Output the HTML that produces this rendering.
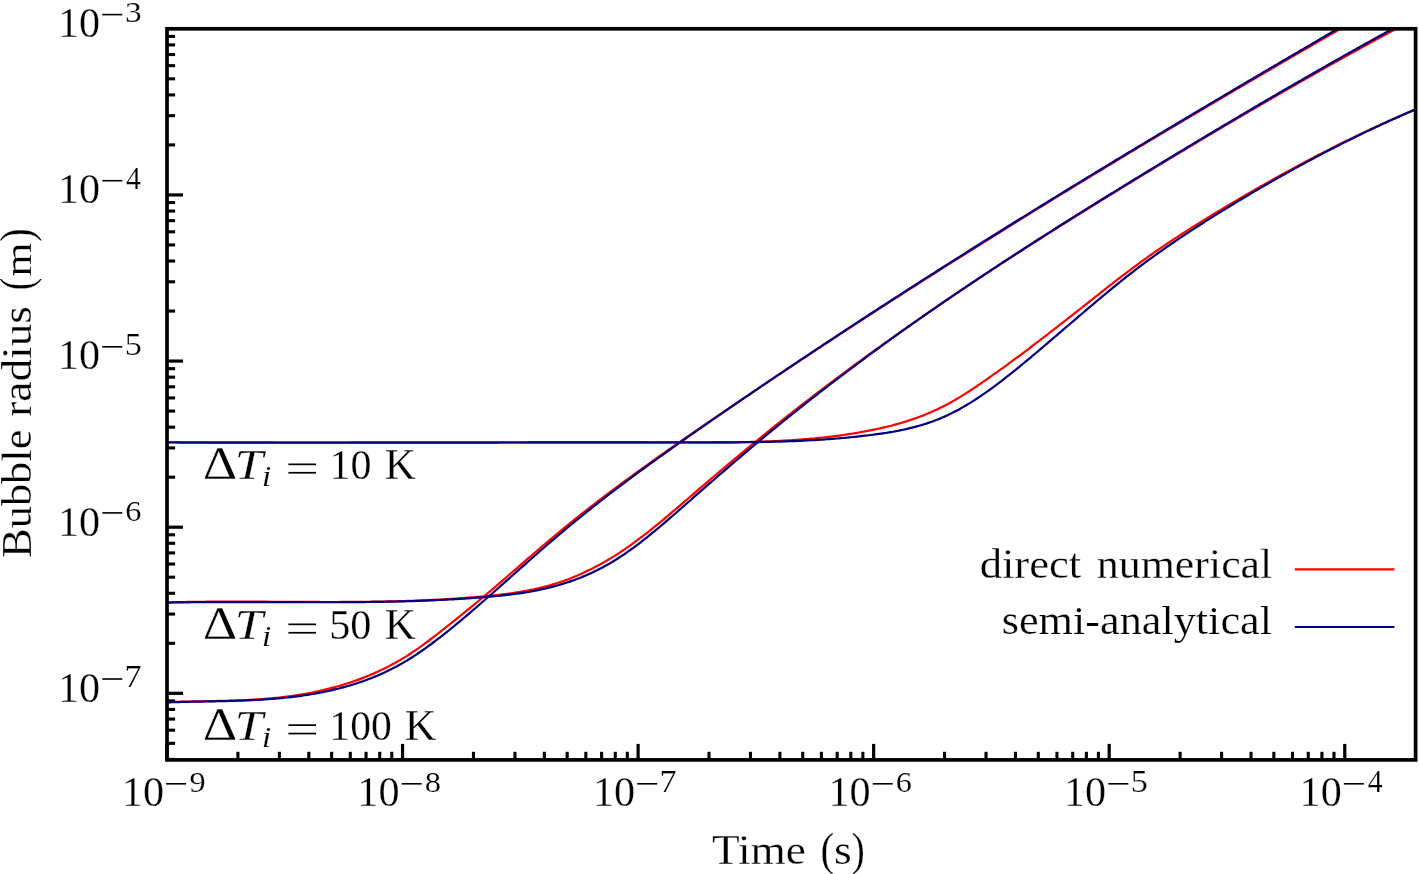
<!DOCTYPE html>
<html><head><meta charset="utf-8"><style>
html,body{margin:0;padding:0;background:#fff;}
svg{display:block;}
svg{will-change:transform}
text{stroke:#fff;stroke-width:0.6px;paint-order:fill stroke}
text{font-family:"Liberation Serif",serif;fill:#000;}
</style></head><body>
<svg width="1419" height="874" viewBox="0 0 1419 874">
<rect width="1419" height="874" fill="#fff"/>
<g stroke="#000" stroke-linecap="butt"><line x1="167.00" y1="759.90" x2="167.00" y2="743.90" stroke-width="3.2"/><line x1="237.91" y1="759.90" x2="237.91" y2="751.80" stroke-width="3.1"/><line x1="279.39" y1="759.90" x2="279.39" y2="751.80" stroke-width="3.1"/><line x1="308.82" y1="759.90" x2="308.82" y2="751.80" stroke-width="3.1"/><line x1="331.64" y1="759.90" x2="331.64" y2="751.80" stroke-width="3.1"/><line x1="350.29" y1="759.90" x2="350.29" y2="751.80" stroke-width="3.1"/><line x1="366.06" y1="759.90" x2="366.06" y2="751.80" stroke-width="3.1"/><line x1="379.72" y1="759.90" x2="379.72" y2="751.80" stroke-width="3.1"/><line x1="391.77" y1="759.90" x2="391.77" y2="751.80" stroke-width="3.1"/><line x1="402.55" y1="759.90" x2="402.55" y2="743.90" stroke-width="3.2"/><line x1="473.46" y1="759.90" x2="473.46" y2="751.80" stroke-width="3.1"/><line x1="514.94" y1="759.90" x2="514.94" y2="751.80" stroke-width="3.1"/><line x1="544.37" y1="759.90" x2="544.37" y2="751.80" stroke-width="3.1"/><line x1="567.19" y1="759.90" x2="567.19" y2="751.80" stroke-width="3.1"/><line x1="585.84" y1="759.90" x2="585.84" y2="751.80" stroke-width="3.1"/><line x1="601.61" y1="759.90" x2="601.61" y2="751.80" stroke-width="3.1"/><line x1="615.27" y1="759.90" x2="615.27" y2="751.80" stroke-width="3.1"/><line x1="627.32" y1="759.90" x2="627.32" y2="751.80" stroke-width="3.1"/><line x1="638.10" y1="759.90" x2="638.10" y2="743.90" stroke-width="3.2"/><line x1="709.01" y1="759.90" x2="709.01" y2="751.80" stroke-width="3.1"/><line x1="750.49" y1="759.90" x2="750.49" y2="751.80" stroke-width="3.1"/><line x1="779.92" y1="759.90" x2="779.92" y2="751.80" stroke-width="3.1"/><line x1="802.74" y1="759.90" x2="802.74" y2="751.80" stroke-width="3.1"/><line x1="821.39" y1="759.90" x2="821.39" y2="751.80" stroke-width="3.1"/><line x1="837.16" y1="759.90" x2="837.16" y2="751.80" stroke-width="3.1"/><line x1="850.82" y1="759.90" x2="850.82" y2="751.80" stroke-width="3.1"/><line x1="862.87" y1="759.90" x2="862.87" y2="751.80" stroke-width="3.1"/><line x1="873.65" y1="759.90" x2="873.65" y2="743.90" stroke-width="3.2"/><line x1="944.56" y1="759.90" x2="944.56" y2="751.80" stroke-width="3.1"/><line x1="986.04" y1="759.90" x2="986.04" y2="751.80" stroke-width="3.1"/><line x1="1015.47" y1="759.90" x2="1015.47" y2="751.80" stroke-width="3.1"/><line x1="1038.29" y1="759.90" x2="1038.29" y2="751.80" stroke-width="3.1"/><line x1="1056.94" y1="759.90" x2="1056.94" y2="751.80" stroke-width="3.1"/><line x1="1072.71" y1="759.90" x2="1072.71" y2="751.80" stroke-width="3.1"/><line x1="1086.37" y1="759.90" x2="1086.37" y2="751.80" stroke-width="3.1"/><line x1="1098.42" y1="759.90" x2="1098.42" y2="751.80" stroke-width="3.1"/><line x1="1109.20" y1="759.90" x2="1109.20" y2="743.90" stroke-width="3.2"/><line x1="1180.11" y1="759.90" x2="1180.11" y2="751.80" stroke-width="3.1"/><line x1="1221.59" y1="759.90" x2="1221.59" y2="751.80" stroke-width="3.1"/><line x1="1251.02" y1="759.90" x2="1251.02" y2="751.80" stroke-width="3.1"/><line x1="1273.84" y1="759.90" x2="1273.84" y2="751.80" stroke-width="3.1"/><line x1="1292.49" y1="759.90" x2="1292.49" y2="751.80" stroke-width="3.1"/><line x1="1308.26" y1="759.90" x2="1308.26" y2="751.80" stroke-width="3.1"/><line x1="1321.92" y1="759.90" x2="1321.92" y2="751.80" stroke-width="3.1"/><line x1="1333.97" y1="759.90" x2="1333.97" y2="751.80" stroke-width="3.1"/><line x1="1344.75" y1="759.90" x2="1344.75" y2="743.90" stroke-width="3.2"/><line x1="167.00" y1="759.43" x2="175.10" y2="759.43" stroke-width="3.1"/><line x1="167.00" y1="743.33" x2="175.10" y2="743.33" stroke-width="3.1"/><line x1="167.00" y1="730.18" x2="175.10" y2="730.18" stroke-width="3.1"/><line x1="167.00" y1="719.05" x2="175.10" y2="719.05" stroke-width="3.1"/><line x1="167.00" y1="709.42" x2="175.10" y2="709.42" stroke-width="3.1"/><line x1="167.00" y1="700.92" x2="175.10" y2="700.92" stroke-width="3.1"/><line x1="167.00" y1="693.32" x2="183.00" y2="693.32" stroke-width="3.2"/><line x1="167.00" y1="643.31" x2="175.10" y2="643.31" stroke-width="3.1"/><line x1="167.00" y1="614.06" x2="175.10" y2="614.06" stroke-width="3.1"/><line x1="167.00" y1="593.30" x2="175.10" y2="593.30" stroke-width="3.1"/><line x1="167.00" y1="577.20" x2="175.10" y2="577.20" stroke-width="3.1"/><line x1="167.00" y1="564.05" x2="175.10" y2="564.05" stroke-width="3.1"/><line x1="167.00" y1="552.92" x2="175.10" y2="552.92" stroke-width="3.1"/><line x1="167.00" y1="543.29" x2="175.10" y2="543.29" stroke-width="3.1"/><line x1="167.00" y1="534.79" x2="175.10" y2="534.79" stroke-width="3.1"/><line x1="167.00" y1="527.19" x2="183.00" y2="527.19" stroke-width="3.2"/><line x1="167.00" y1="477.18" x2="175.10" y2="477.18" stroke-width="3.1"/><line x1="167.00" y1="447.93" x2="175.10" y2="447.93" stroke-width="3.1"/><line x1="167.00" y1="427.17" x2="175.10" y2="427.17" stroke-width="3.1"/><line x1="167.00" y1="411.07" x2="175.10" y2="411.07" stroke-width="3.1"/><line x1="167.00" y1="397.92" x2="175.10" y2="397.92" stroke-width="3.1"/><line x1="167.00" y1="386.79" x2="175.10" y2="386.79" stroke-width="3.1"/><line x1="167.00" y1="377.16" x2="175.10" y2="377.16" stroke-width="3.1"/><line x1="167.00" y1="368.66" x2="175.10" y2="368.66" stroke-width="3.1"/><line x1="167.00" y1="361.06" x2="183.00" y2="361.06" stroke-width="3.2"/><line x1="167.00" y1="311.05" x2="175.10" y2="311.05" stroke-width="3.1"/><line x1="167.00" y1="281.80" x2="175.10" y2="281.80" stroke-width="3.1"/><line x1="167.00" y1="261.04" x2="175.10" y2="261.04" stroke-width="3.1"/><line x1="167.00" y1="244.94" x2="175.10" y2="244.94" stroke-width="3.1"/><line x1="167.00" y1="231.79" x2="175.10" y2="231.79" stroke-width="3.1"/><line x1="167.00" y1="220.66" x2="175.10" y2="220.66" stroke-width="3.1"/><line x1="167.00" y1="211.03" x2="175.10" y2="211.03" stroke-width="3.1"/><line x1="167.00" y1="202.53" x2="175.10" y2="202.53" stroke-width="3.1"/><line x1="167.00" y1="194.93" x2="183.00" y2="194.93" stroke-width="3.2"/><line x1="167.00" y1="144.92" x2="175.10" y2="144.92" stroke-width="3.1"/><line x1="167.00" y1="115.67" x2="175.10" y2="115.67" stroke-width="3.1"/><line x1="167.00" y1="94.91" x2="175.10" y2="94.91" stroke-width="3.1"/><line x1="167.00" y1="78.81" x2="175.10" y2="78.81" stroke-width="3.1"/><line x1="167.00" y1="65.66" x2="175.10" y2="65.66" stroke-width="3.1"/><line x1="167.00" y1="54.53" x2="175.10" y2="54.53" stroke-width="3.1"/><line x1="167.00" y1="44.90" x2="175.10" y2="44.90" stroke-width="3.1"/><line x1="167.00" y1="36.40" x2="175.10" y2="36.40" stroke-width="3.1"/></g>
<defs><clipPath id="pc"><rect x="167.0" y="28.8" width="1248.6" height="731.1"/></clipPath></defs><g clip-path="url(#pc)"><path d="M165.00,702.26 L167.00,702.18 L169.00,702.10 L171.00,702.03 L173.00,701.96 L175.00,701.90 L177.00,701.84 L179.00,701.78 L181.00,701.72 L183.00,701.67 L185.00,701.62 L187.00,701.58 L189.00,701.53 L191.00,701.49 L193.00,701.45 L195.00,701.41 L197.00,701.37 L199.00,701.33 L201.00,701.29 L203.00,701.25 L205.00,701.22 L207.00,701.18 L209.00,701.14 L211.00,701.10 L213.00,701.06 L215.00,701.02 L217.00,700.97 L219.00,700.93 L221.00,700.88 L223.00,700.83 L225.00,700.78 L227.00,700.73 L229.00,700.67 L231.00,700.61 L233.00,700.55 L235.00,700.48 L237.00,700.41 L239.00,700.33 L241.00,700.25 L243.00,700.17 L245.00,700.08 L247.00,699.98 L249.00,699.88 L251.00,699.78 L253.00,699.66 L255.00,699.54 L257.00,699.42 L259.00,699.29 L261.00,699.15 L263.00,699.00 L265.00,698.85 L267.00,698.69 L269.00,698.52 L271.00,698.34 L273.00,698.16 L275.00,697.97 L277.00,697.76 L279.00,697.55 L281.00,697.33 L283.00,697.10 L285.00,696.86 L287.00,696.60 L289.00,696.34 L291.00,696.07 L293.00,695.79 L295.00,695.49 L297.00,695.19 L299.00,694.87 L301.00,694.54 L303.00,694.20 L305.00,693.85 L307.00,693.49 L309.00,693.11 L311.00,692.73 L313.00,692.33 L315.00,691.92 L317.00,691.49 L319.00,691.05 L321.00,690.60 L323.00,690.14 L325.00,689.67 L327.00,689.18 L329.00,688.68 L331.00,688.16 L333.00,687.63 L335.00,687.09 L337.00,686.53 L339.00,685.96 L341.00,685.37 L343.00,684.77 L345.00,684.16 L347.00,683.52 L349.00,682.88 L351.00,682.21 L353.00,681.53 L355.00,680.83 L357.00,680.12 L359.00,679.39 L361.00,678.64 L363.00,677.87 L365.00,677.09 L367.00,676.28 L369.00,675.46 L371.00,674.62 L373.00,673.76 L375.00,672.88 L377.00,671.98 L379.00,671.06 L381.00,670.12 L383.00,669.16 L385.00,668.17 L387.00,667.17 L389.00,666.14 L391.00,665.09 L393.00,664.02 L395.00,662.92 L397.00,661.80 L399.00,660.65 L401.00,659.48 L403.00,658.29 L405.00,657.07 L407.00,655.83 L409.00,654.55 L411.00,653.26 L413.00,651.93 L415.00,650.58 L417.00,649.21 L419.00,647.81 L421.00,646.39 L423.00,644.95 L425.00,643.48 L427.00,642.00 L429.00,640.50 L431.00,638.98 L433.00,637.45 L435.00,635.91 L437.00,634.35 L439.00,632.79 L441.00,631.21 L443.00,629.63 L445.00,628.04 L447.00,626.45 L449.00,624.85 L451.00,623.25 L453.00,621.66 L455.00,620.06 L457.00,618.46 L459.00,616.85 L461.00,615.25 L463.00,613.64 L465.00,612.03 L467.00,610.41 L469.00,608.79 L471.00,607.17 L473.00,605.53 L475.00,603.89 L477.00,602.25 L479.00,600.60 L481.00,598.93 L483.00,597.26 L485.00,595.59 L487.00,593.90 L489.00,592.21 L491.00,590.51 L493.00,588.80 L495.00,587.09 L497.00,585.37 L499.00,583.65 L501.00,581.93 L503.00,580.20 L505.00,578.47 L507.00,576.74 L509.00,575.01 L511.00,573.28 L513.00,571.54 L515.00,569.81 L517.00,568.08 L519.00,566.34 L521.00,564.61 L523.00,562.88 L525.00,561.15 L527.00,559.42 L529.00,557.69 L531.00,555.97 L533.00,554.25 L535.00,552.53 L537.00,550.81 L539.00,549.10 L541.00,547.39 L543.00,545.69 L545.00,543.99 L547.00,542.30 L549.00,540.61 L551.00,538.92 L553.00,537.25 L555.00,535.57 L557.00,533.91 L559.00,532.25 L561.00,530.60 L563.00,528.96 L565.00,527.32 L567.00,525.69 L569.00,524.07 L571.00,522.45 L573.00,520.84 L575.00,519.23 L577.00,517.64 L579.00,516.04 L581.00,514.46 L583.00,512.88 L585.00,511.31 L587.00,509.74 L589.00,508.18 L591.00,506.62 L593.00,505.07 L595.00,503.53 L597.00,501.99 L599.00,500.45 L601.00,498.92 L603.00,497.40 L605.00,495.88 L607.00,494.37 L609.00,492.86 L611.00,491.36 L613.00,489.86 L615.00,488.37 L617.00,486.88 L619.00,485.39 L621.00,483.91 L623.00,482.44 L625.00,480.96 L627.00,479.50 L629.00,478.03 L631.00,476.57 L633.00,475.12 L635.00,473.67 L637.00,472.22 L639.00,470.78 L641.00,469.34 L643.00,467.90 L645.00,466.47 L647.00,465.03 L649.00,463.61 L651.00,462.18 L653.00,460.76 L655.00,459.35 L657.00,457.93 L659.00,456.52 L661.00,455.11 L663.00,453.70 L665.00,452.30 L667.00,450.90 L669.00,449.50 L671.00,448.10 L673.00,446.71 L675.00,445.31 L677.00,443.92 L679.00,442.54 L681.00,441.15 L683.00,439.76 L685.00,438.38 L687.00,437.00 L689.00,435.62 L691.00,434.24 L693.00,432.86 L695.00,431.49 L697.00,430.11 L699.00,428.74 L701.00,427.37 L703.00,425.99 L705.00,424.62 L707.00,423.25 L709.00,421.89 L711.00,420.52 L713.00,419.15 L715.00,417.78 L717.00,416.42 L719.00,415.06 L721.00,413.69 L723.00,412.33 L725.00,410.97 L727.00,409.61 L729.00,408.25 L731.00,406.89 L733.00,405.53 L735.00,404.18 L737.00,402.82 L739.00,401.47 L741.00,400.11 L743.00,398.76 L745.00,397.41 L747.00,396.06 L749.00,394.71 L751.00,393.36 L753.00,392.01 L755.00,390.67 L757.00,389.32 L759.00,387.97 L761.00,386.63 L763.00,385.29 L765.00,383.94 L767.00,382.60 L769.00,381.26 L771.00,379.92 L773.00,378.58 L775.00,377.25 L777.00,375.91 L779.00,374.57 L781.00,373.24 L783.00,371.90 L785.00,370.57 L787.00,369.24 L789.00,367.91 L791.00,366.57 L793.00,365.25 L795.00,363.92 L797.00,362.59 L799.00,361.26 L801.00,359.93 L803.00,358.61 L805.00,357.28 L807.00,355.96 L809.00,354.64 L811.00,353.32 L813.00,352.00 L815.00,350.68 L817.00,349.36 L819.00,348.04 L821.00,346.72 L823.00,345.40 L825.00,344.09 L827.00,342.77 L829.00,341.46 L831.00,340.15 L833.00,338.83 L835.00,337.52 L837.00,336.21 L839.00,334.90 L841.00,333.59 L843.00,332.28 L845.00,330.98 L847.00,329.67 L849.00,328.37 L851.00,327.06 L853.00,325.76 L855.00,324.45 L857.00,323.15 L859.00,321.85 L861.00,320.55 L863.00,319.25 L865.00,317.95 L867.00,316.65 L869.00,315.36 L871.00,314.06 L873.00,312.76 L875.00,311.47 L877.00,310.18 L879.00,308.88 L881.00,307.59 L883.00,306.30 L885.00,305.01 L887.00,303.72 L889.00,302.43 L891.00,301.14 L893.00,299.85 L895.00,298.57 L897.00,297.28 L899.00,296.00 L901.00,294.71 L903.00,293.43 L905.00,292.15 L907.00,290.86 L909.00,289.58 L911.00,288.30 L913.00,287.02 L915.00,285.74 L917.00,284.47 L919.00,283.19 L921.00,281.91 L923.00,280.64 L925.00,279.36 L927.00,278.09 L929.00,276.82 L931.00,275.54 L933.00,274.27 L935.00,273.00 L937.00,271.73 L939.00,270.46 L941.00,269.19 L943.00,267.92 L945.00,266.66 L947.00,265.39 L949.00,264.13 L951.00,262.86 L953.00,261.60 L955.00,260.33 L957.00,259.07 L959.00,257.81 L961.00,256.55 L963.00,255.29 L965.00,254.03 L967.00,252.77 L969.00,251.51 L971.00,250.25 L973.00,249.00 L975.00,247.74 L977.00,246.49 L979.00,245.23 L981.00,243.98 L983.00,242.73 L985.00,241.47 L987.00,240.22 L989.00,238.97 L991.00,237.72 L993.00,236.47 L995.00,235.22 L997.00,233.97 L999.00,232.73 L1001.00,231.48 L1003.00,230.24 L1005.00,228.99 L1007.00,227.75 L1009.00,226.50 L1011.00,225.26 L1013.00,224.02 L1015.00,222.78 L1017.00,221.53 L1019.00,220.29 L1021.00,219.06 L1023.00,217.82 L1025.00,216.58 L1027.00,215.34 L1029.00,214.10 L1031.00,212.87 L1033.00,211.63 L1035.00,210.40 L1037.00,209.16 L1039.00,207.93 L1041.00,206.70 L1043.00,205.47 L1045.00,204.24 L1047.00,203.00 L1049.00,201.77 L1051.00,200.55 L1053.00,199.32 L1055.00,198.09 L1057.00,196.86 L1059.00,195.63 L1061.00,194.41 L1063.00,193.18 L1065.00,191.96 L1067.00,190.74 L1069.00,189.51 L1071.00,188.29 L1073.00,187.07 L1075.00,185.85 L1077.00,184.62 L1079.00,183.40 L1081.00,182.19 L1083.00,180.97 L1085.00,179.75 L1087.00,178.53 L1089.00,177.31 L1091.00,176.10 L1093.00,174.88 L1095.00,173.67 L1097.00,172.45 L1099.00,171.24 L1101.00,170.03 L1103.00,168.81 L1105.00,167.60 L1107.00,166.39 L1109.00,165.18 L1111.00,163.97 L1113.00,162.76 L1115.00,161.55 L1117.00,160.34 L1119.00,159.14 L1121.00,157.93 L1123.00,156.72 L1125.00,155.52 L1127.00,154.31 L1129.00,153.11 L1131.00,151.90 L1133.00,150.70 L1135.00,149.50 L1137.00,148.30 L1139.00,147.09 L1141.00,145.89 L1143.00,144.69 L1145.00,143.49 L1147.00,142.29 L1149.00,141.09 L1151.00,139.90 L1153.00,138.70 L1155.00,137.50 L1157.00,136.31 L1159.00,135.11 L1161.00,133.92 L1163.00,132.72 L1165.00,131.53 L1167.00,130.33 L1169.00,129.14 L1171.00,127.95 L1173.00,126.76 L1175.00,125.57 L1177.00,124.37 L1179.00,123.18 L1181.00,121.99 L1183.00,120.81 L1185.00,119.62 L1187.00,118.43 L1189.00,117.24 L1191.00,116.06 L1193.00,114.87 L1195.00,113.68 L1197.00,112.50 L1199.00,111.31 L1201.00,110.13 L1203.00,108.95 L1205.00,107.76 L1207.00,106.58 L1209.00,105.40 L1211.00,104.22 L1213.00,103.04 L1215.00,101.86 L1217.00,100.68 L1219.00,99.50 L1221.00,98.32 L1223.00,97.14 L1225.00,95.96 L1227.00,94.79 L1229.00,93.61 L1231.00,92.43 L1233.00,91.26 L1235.00,90.08 L1237.00,88.91 L1239.00,87.73 L1241.00,86.56 L1243.00,85.39 L1245.00,84.21 L1247.00,83.04 L1249.00,81.87 L1251.00,80.70 L1253.00,79.53 L1255.00,78.36 L1257.00,77.19 L1259.00,76.02 L1261.00,74.85 L1263.00,73.68 L1265.00,72.51 L1267.00,71.35 L1269.00,70.18 L1271.00,69.01 L1273.00,67.85 L1275.00,66.68 L1277.00,65.52 L1279.00,64.35 L1281.00,63.19 L1283.00,62.03 L1285.00,60.86 L1287.00,59.70 L1289.00,58.54 L1291.00,57.38 L1293.00,56.22 L1295.00,55.06 L1297.00,53.90 L1299.00,52.74 L1301.00,51.58 L1303.00,50.42 L1305.00,49.26 L1307.00,48.10 L1309.00,46.94 L1311.00,45.79 L1313.00,44.63 L1315.00,43.47 L1317.00,42.32 L1319.00,41.16 L1321.00,40.01 L1323.00,38.85 L1325.00,37.70 L1327.00,36.55 L1329.00,35.39 L1331.00,34.24 L1333.00,33.09 L1335.00,31.93 L1337.00,30.78 L1339.00,29.63 L1341.00,28.48 L1343.00,27.33 L1345.00,26.18 L1347.00,25.03 L1349.00,23.88 L1351.00,22.73" fill="none" stroke="#ff0000" stroke-width="2.2" stroke-linejoin="round"/><path d="M165.00,602.41 L167.00,602.36 L169.00,602.31 L171.00,602.26 L173.00,602.21 L175.00,602.17 L177.00,602.13 L179.00,602.09 L181.00,602.05 L183.00,602.01 L185.00,601.98 L187.00,601.94 L189.00,601.91 L191.00,601.88 L193.00,601.86 L195.00,601.83 L197.00,601.81 L199.00,601.78 L201.00,601.76 L203.00,601.74 L205.00,601.73 L207.00,601.71 L209.00,601.70 L211.00,601.68 L213.00,601.67 L215.00,601.66 L217.00,601.65 L219.00,601.64 L221.00,601.64 L223.00,601.63 L225.00,601.62 L227.00,601.62 L229.00,601.62 L231.00,601.62 L233.00,601.62 L235.00,601.62 L237.00,601.62 L239.00,601.62 L241.00,601.62 L243.00,601.63 L245.00,601.63 L247.00,601.64 L249.00,601.64 L251.00,601.65 L253.00,601.66 L255.00,601.66 L257.00,601.67 L259.00,601.68 L261.00,601.69 L263.00,601.70 L265.00,601.71 L267.00,601.72 L269.00,601.73 L271.00,601.74 L273.00,601.75 L275.00,601.76 L277.00,601.77 L279.00,601.79 L281.00,601.80 L283.00,601.81 L285.00,601.82 L287.00,601.83 L289.00,601.84 L291.00,601.85 L293.00,601.86 L295.00,601.87 L297.00,601.88 L299.00,601.89 L301.00,601.90 L303.00,601.91 L305.00,601.92 L307.00,601.93 L309.00,601.94 L311.00,601.95 L313.00,601.95 L315.00,601.96 L317.00,601.97 L319.00,601.97 L321.00,601.98 L323.00,601.98 L325.00,601.98 L327.00,601.98 L329.00,601.99 L331.00,601.99 L333.00,601.98 L335.00,601.98 L337.00,601.98 L339.00,601.98 L341.00,601.97 L343.00,601.97 L345.00,601.96 L347.00,601.95 L349.00,601.94 L351.00,601.93 L353.00,601.92 L355.00,601.90 L357.00,601.89 L359.00,601.87 L361.00,601.85 L363.00,601.83 L365.00,601.81 L367.00,601.79 L369.00,601.77 L371.00,601.74 L373.00,601.71 L375.00,601.68 L377.00,601.65 L379.00,601.62 L381.00,601.58 L383.00,601.55 L385.00,601.51 L387.00,601.47 L389.00,601.43 L391.00,601.38 L393.00,601.33 L395.00,601.28 L397.00,601.23 L399.00,601.18 L401.00,601.12 L403.00,601.07 L405.00,601.01 L407.00,600.94 L409.00,600.88 L411.00,600.81 L413.00,600.74 L415.00,600.67 L417.00,600.59 L419.00,600.52 L421.00,600.43 L423.00,600.35 L425.00,600.27 L427.00,600.18 L429.00,600.09 L431.00,599.99 L433.00,599.90 L435.00,599.80 L437.00,599.69 L439.00,599.59 L441.00,599.48 L443.00,599.37 L445.00,599.25 L447.00,599.13 L449.00,599.01 L451.00,598.89 L453.00,598.76 L455.00,598.63 L457.00,598.50 L459.00,598.36 L461.00,598.22 L463.00,598.07 L465.00,597.92 L467.00,597.77 L469.00,597.62 L471.00,597.46 L473.00,597.30 L475.00,597.13 L477.00,596.96 L479.00,596.79 L481.00,596.61 L483.00,596.43 L485.00,596.24 L487.00,596.05 L489.00,595.86 L491.00,595.66 L493.00,595.45 L495.00,595.24 L497.00,595.02 L499.00,594.79 L501.00,594.55 L503.00,594.31 L505.00,594.06 L507.00,593.80 L509.00,593.53 L511.00,593.26 L513.00,592.97 L515.00,592.67 L517.00,592.36 L519.00,592.04 L521.00,591.71 L523.00,591.37 L525.00,591.01 L527.00,590.65 L529.00,590.27 L531.00,589.87 L533.00,589.46 L535.00,589.04 L537.00,588.59 L539.00,588.14 L541.00,587.66 L543.00,587.17 L545.00,586.66 L547.00,586.13 L549.00,585.59 L551.00,585.02 L553.00,584.43 L555.00,583.82 L557.00,583.19 L559.00,582.54 L561.00,581.87 L563.00,581.17 L565.00,580.45 L567.00,579.71 L569.00,578.94 L571.00,578.16 L573.00,577.35 L575.00,576.52 L577.00,575.67 L579.00,574.80 L581.00,573.91 L583.00,572.99 L585.00,572.06 L587.00,571.11 L589.00,570.13 L591.00,569.14 L593.00,568.13 L595.00,567.10 L597.00,566.05 L599.00,564.98 L601.00,563.89 L603.00,562.78 L605.00,561.64 L607.00,560.49 L609.00,559.31 L611.00,558.12 L613.00,556.89 L615.00,555.65 L617.00,554.38 L619.00,553.08 L621.00,551.76 L623.00,550.42 L625.00,549.06 L627.00,547.68 L629.00,546.28 L631.00,544.85 L633.00,543.41 L635.00,541.95 L637.00,540.47 L639.00,538.97 L641.00,537.45 L643.00,535.92 L645.00,534.38 L647.00,532.82 L649.00,531.24 L651.00,529.65 L653.00,528.05 L655.00,526.44 L657.00,524.81 L659.00,523.17 L661.00,521.53 L663.00,519.87 L665.00,518.20 L667.00,516.53 L669.00,514.84 L671.00,513.15 L673.00,511.46 L675.00,509.75 L677.00,508.05 L679.00,506.34 L681.00,504.62 L683.00,502.91 L685.00,501.19 L687.00,499.47 L689.00,497.75 L691.00,496.03 L693.00,494.31 L695.00,492.60 L697.00,490.88 L699.00,489.17 L701.00,487.46 L703.00,485.75 L705.00,484.04 L707.00,482.33 L709.00,480.63 L711.00,478.92 L713.00,477.22 L715.00,475.53 L717.00,473.83 L719.00,472.14 L721.00,470.44 L723.00,468.75 L725.00,467.07 L727.00,465.38 L729.00,463.70 L731.00,462.02 L733.00,460.35 L735.00,458.68 L737.00,457.01 L739.00,455.34 L741.00,453.68 L743.00,452.02 L745.00,450.36 L747.00,448.71 L749.00,447.06 L751.00,445.41 L753.00,443.77 L755.00,442.13 L757.00,440.50 L759.00,438.87 L761.00,437.24 L763.00,435.62 L765.00,434.00 L767.00,432.39 L769.00,430.78 L771.00,429.17 L773.00,427.56 L775.00,425.97 L777.00,424.37 L779.00,422.78 L781.00,421.19 L783.00,419.60 L785.00,418.02 L787.00,416.44 L789.00,414.87 L791.00,413.30 L793.00,411.73 L795.00,410.16 L797.00,408.60 L799.00,407.05 L801.00,405.49 L803.00,403.94 L805.00,402.39 L807.00,400.85 L809.00,399.31 L811.00,397.77 L813.00,396.24 L815.00,394.71 L817.00,393.18 L819.00,391.65 L821.00,390.13 L823.00,388.61 L825.00,387.10 L827.00,385.59 L829.00,384.08 L831.00,382.57 L833.00,381.07 L835.00,379.57 L837.00,378.07 L839.00,376.58 L841.00,375.09 L843.00,373.60 L845.00,372.11 L847.00,370.63 L849.00,369.15 L851.00,367.67 L853.00,366.20 L855.00,364.73 L857.00,363.26 L859.00,361.79 L861.00,360.33 L863.00,358.87 L865.00,357.41 L867.00,355.96 L869.00,354.50 L871.00,353.05 L873.00,351.61 L875.00,350.16 L877.00,348.72 L879.00,347.28 L881.00,345.85 L883.00,344.41 L885.00,342.98 L887.00,341.56 L889.00,340.13 L891.00,338.71 L893.00,337.29 L895.00,335.87 L897.00,334.45 L899.00,333.04 L901.00,331.63 L903.00,330.22 L905.00,328.82 L907.00,327.41 L909.00,326.01 L911.00,324.61 L913.00,323.22 L915.00,321.82 L917.00,320.43 L919.00,319.04 L921.00,317.66 L923.00,316.27 L925.00,314.89 L927.00,313.51 L929.00,312.13 L931.00,310.76 L933.00,309.39 L935.00,308.02 L937.00,306.65 L939.00,305.28 L941.00,303.92 L943.00,302.56 L945.00,301.20 L947.00,299.84 L949.00,298.48 L951.00,297.13 L953.00,295.78 L955.00,294.43 L957.00,293.08 L959.00,291.74 L961.00,290.40 L963.00,289.06 L965.00,287.72 L967.00,286.38 L969.00,285.05 L971.00,283.71 L973.00,282.38 L975.00,281.05 L977.00,279.73 L979.00,278.40 L981.00,277.08 L983.00,275.76 L985.00,274.44 L987.00,273.12 L989.00,271.80 L991.00,270.49 L993.00,269.18 L995.00,267.87 L997.00,266.56 L999.00,265.25 L1001.00,263.95 L1003.00,262.65 L1005.00,261.34 L1007.00,260.04 L1009.00,258.75 L1011.00,257.45 L1013.00,256.15 L1015.00,254.86 L1017.00,253.57 L1019.00,252.28 L1021.00,250.99 L1023.00,249.71 L1025.00,248.42 L1027.00,247.14 L1029.00,245.86 L1031.00,244.58 L1033.00,243.30 L1035.00,242.02 L1037.00,240.74 L1039.00,239.47 L1041.00,238.20 L1043.00,236.92 L1045.00,235.65 L1047.00,234.39 L1049.00,233.12 L1051.00,231.85 L1053.00,230.59 L1055.00,229.33 L1057.00,228.06 L1059.00,226.80 L1061.00,225.54 L1063.00,224.29 L1065.00,223.03 L1067.00,221.78 L1069.00,220.52 L1071.00,219.27 L1073.00,218.02 L1075.00,216.77 L1077.00,215.52 L1079.00,214.27 L1081.00,213.02 L1083.00,211.78 L1085.00,210.53 L1087.00,209.29 L1089.00,208.05 L1091.00,206.81 L1093.00,205.57 L1095.00,204.33 L1097.00,203.09 L1099.00,201.85 L1101.00,200.62 L1103.00,199.38 L1105.00,198.15 L1107.00,196.92 L1109.00,195.68 L1111.00,194.45 L1113.00,193.22 L1115.00,191.99 L1117.00,190.77 L1119.00,189.54 L1121.00,188.31 L1123.00,187.09 L1125.00,185.86 L1127.00,184.64 L1129.00,183.42 L1131.00,182.19 L1133.00,180.97 L1135.00,179.75 L1137.00,178.53 L1139.00,177.31 L1141.00,176.09 L1143.00,174.88 L1145.00,173.66 L1147.00,172.44 L1149.00,171.23 L1151.00,170.01 L1153.00,168.80 L1155.00,167.59 L1157.00,166.37 L1159.00,165.16 L1161.00,163.95 L1163.00,162.74 L1165.00,161.53 L1167.00,160.32 L1169.00,159.12 L1171.00,157.91 L1173.00,156.70 L1175.00,155.50 L1177.00,154.29 L1179.00,153.09 L1181.00,151.89 L1183.00,150.69 L1185.00,149.49 L1187.00,148.29 L1189.00,147.09 L1191.00,145.89 L1193.00,144.69 L1195.00,143.49 L1197.00,142.30 L1199.00,141.10 L1201.00,139.91 L1203.00,138.72 L1205.00,137.53 L1207.00,136.33 L1209.00,135.14 L1211.00,133.95 L1213.00,132.77 L1215.00,131.58 L1217.00,130.39 L1219.00,129.21 L1221.00,128.02 L1223.00,126.84 L1225.00,125.66 L1227.00,124.48 L1229.00,123.29 L1231.00,122.12 L1233.00,120.94 L1235.00,119.76 L1237.00,118.58 L1239.00,117.41 L1241.00,116.23 L1243.00,115.06 L1245.00,113.89 L1247.00,112.72 L1249.00,111.55 L1251.00,110.38 L1253.00,109.21 L1255.00,108.04 L1257.00,106.87 L1259.00,105.71 L1261.00,104.55 L1263.00,103.38 L1265.00,102.22 L1267.00,101.06 L1269.00,99.90 L1271.00,98.74 L1273.00,97.59 L1275.00,96.43 L1277.00,95.27 L1279.00,94.12 L1281.00,92.97 L1283.00,91.82 L1285.00,90.67 L1287.00,89.52 L1289.00,88.37 L1291.00,87.22 L1293.00,86.08 L1295.00,84.93 L1297.00,83.79 L1299.00,82.65 L1301.00,81.51 L1303.00,80.37 L1305.00,79.23 L1307.00,78.09 L1309.00,76.95 L1311.00,75.82 L1313.00,74.69 L1315.00,73.55 L1317.00,72.42 L1319.00,71.29 L1321.00,70.16 L1323.00,69.04 L1325.00,67.91 L1327.00,66.79 L1329.00,65.66 L1331.00,64.54 L1333.00,63.42 L1335.00,62.30 L1337.00,61.18 L1339.00,60.07 L1341.00,58.95 L1343.00,57.84 L1345.00,56.72 L1347.00,55.61 L1349.00,54.50 L1351.00,53.39 L1353.00,52.28 L1355.00,51.18 L1357.00,50.07 L1359.00,48.97 L1361.00,47.87 L1363.00,46.77 L1365.00,45.67 L1367.00,44.57 L1369.00,43.48 L1371.00,42.38 L1373.00,41.29 L1375.00,40.19 L1377.00,39.10 L1379.00,38.02 L1381.00,36.93 L1383.00,35.84 L1385.00,34.76 L1387.00,33.67 L1389.00,32.59 L1391.00,31.51 L1393.00,30.43 L1395.00,29.35 L1397.00,28.28 L1399.00,27.20 L1401.00,26.13 L1403.00,25.06 L1405.00,23.99 L1407.00,22.92 L1409.00,21.86" fill="none" stroke="#ff0000" stroke-width="2.2" stroke-linejoin="round"/><path d="M165.00,442.19 L167.00,442.20 L169.00,442.20 L171.00,442.21 L173.00,442.21 L175.00,442.21 L177.00,442.22 L179.00,442.22 L181.00,442.23 L183.00,442.23 L185.00,442.24 L187.00,442.24 L189.00,442.25 L191.00,442.25 L193.00,442.25 L195.00,442.26 L197.00,442.26 L199.00,442.27 L201.00,442.27 L203.00,442.27 L205.00,442.28 L207.00,442.28 L209.00,442.28 L211.00,442.29 L213.00,442.29 L215.00,442.29 L217.00,442.30 L219.00,442.30 L221.00,442.30 L223.00,442.31 L225.00,442.31 L227.00,442.31 L229.00,442.31 L231.00,442.32 L233.00,442.32 L235.00,442.32 L237.00,442.32 L239.00,442.33 L241.00,442.33 L243.00,442.33 L245.00,442.33 L247.00,442.34 L249.00,442.34 L251.00,442.34 L253.00,442.34 L255.00,442.34 L257.00,442.35 L259.00,442.35 L261.00,442.35 L263.00,442.35 L265.00,442.35 L267.00,442.35 L269.00,442.36 L271.00,442.36 L273.00,442.36 L275.00,442.36 L277.00,442.36 L279.00,442.36 L281.00,442.36 L283.00,442.36 L285.00,442.37 L287.00,442.37 L289.00,442.37 L291.00,442.37 L293.00,442.37 L295.00,442.37 L297.00,442.37 L299.00,442.37 L301.00,442.37 L303.00,442.37 L305.00,442.37 L307.00,442.38 L309.00,442.38 L311.00,442.38 L313.00,442.38 L315.00,442.38 L317.00,442.38 L319.00,442.38 L321.00,442.38 L323.00,442.38 L325.00,442.38 L327.00,442.38 L329.00,442.38 L331.00,442.38 L333.00,442.38 L335.00,442.38 L337.00,442.38 L339.00,442.38 L341.00,442.38 L343.00,442.38 L345.00,442.38 L347.00,442.38 L349.00,442.38 L351.00,442.38 L353.00,442.38 L355.00,442.38 L357.00,442.38 L359.00,442.38 L361.00,442.38 L363.00,442.38 L365.00,442.38 L367.00,442.38 L369.00,442.38 L371.00,442.38 L373.00,442.38 L375.00,442.38 L377.00,442.38 L379.00,442.38 L381.00,442.38 L383.00,442.38 L385.00,442.38 L387.00,442.38 L389.00,442.38 L391.00,442.38 L393.00,442.38 L395.00,442.37 L397.00,442.37 L399.00,442.37 L401.00,442.37 L403.00,442.37 L405.00,442.37 L407.00,442.37 L409.00,442.37 L411.00,442.37 L413.00,442.37 L415.00,442.37 L417.00,442.37 L419.00,442.37 L421.00,442.37 L423.00,442.37 L425.00,442.37 L427.00,442.37 L429.00,442.37 L431.00,442.37 L433.00,442.37 L435.00,442.37 L437.00,442.36 L439.00,442.36 L441.00,442.36 L443.00,442.36 L445.00,442.36 L447.00,442.36 L449.00,442.36 L451.00,442.36 L453.00,442.36 L455.00,442.36 L457.00,442.36 L459.00,442.36 L461.00,442.36 L463.00,442.36 L465.00,442.36 L467.00,442.36 L469.00,442.36 L471.00,442.36 L473.00,442.36 L475.00,442.36 L477.00,442.36 L479.00,442.36 L481.00,442.36 L483.00,442.36 L485.00,442.36 L487.00,442.36 L489.00,442.36 L491.00,442.36 L493.00,442.36 L495.00,442.36 L497.00,442.36 L499.00,442.36 L501.00,442.36 L503.00,442.36 L505.00,442.36 L507.00,442.36 L509.00,442.36 L511.00,442.36 L513.00,442.36 L515.00,442.36 L517.00,442.36 L519.00,442.36 L521.00,442.36 L523.00,442.36 L525.00,442.36 L527.00,442.36 L529.00,442.36 L531.00,442.36 L533.00,442.36 L535.00,442.36 L537.00,442.36 L539.00,442.36 L541.00,442.36 L543.00,442.36 L545.00,442.36 L547.00,442.36 L549.00,442.36 L551.00,442.37 L553.00,442.37 L555.00,442.37 L557.00,442.37 L559.00,442.37 L561.00,442.37 L563.00,442.37 L565.00,442.37 L567.00,442.37 L569.00,442.38 L571.00,442.38 L573.00,442.38 L575.00,442.38 L577.00,442.38 L579.00,442.38 L581.00,442.38 L583.00,442.39 L585.00,442.39 L587.00,442.39 L589.00,442.39 L591.00,442.39 L593.00,442.39 L595.00,442.40 L597.00,442.40 L599.00,442.40 L601.00,442.40 L603.00,442.41 L605.00,442.41 L607.00,442.41 L609.00,442.41 L611.00,442.41 L613.00,442.42 L615.00,442.42 L617.00,442.42 L619.00,442.43 L621.00,442.43 L623.00,442.43 L625.00,442.43 L627.00,442.44 L629.00,442.44 L631.00,442.44 L633.00,442.45 L635.00,442.45 L637.00,442.45 L639.00,442.46 L641.00,442.46 L643.00,442.46 L645.00,442.47 L647.00,442.47 L649.00,442.47 L651.00,442.48 L653.00,442.48 L655.00,442.49 L657.00,442.49 L659.00,442.49 L661.00,442.50 L663.00,442.50 L665.00,442.50 L667.00,442.50 L669.00,442.51 L671.00,442.51 L673.00,442.51 L675.00,442.51 L677.00,442.52 L679.00,442.52 L681.00,442.52 L683.00,442.52 L685.00,442.52 L687.00,442.52 L689.00,442.52 L691.00,442.52 L693.00,442.52 L695.00,442.52 L697.00,442.52 L699.00,442.51 L701.00,442.51 L703.00,442.51 L705.00,442.50 L707.00,442.50 L709.00,442.49 L711.00,442.48 L713.00,442.47 L715.00,442.46 L717.00,442.45 L719.00,442.43 L721.00,442.42 L723.00,442.40 L725.00,442.38 L727.00,442.36 L729.00,442.34 L731.00,442.31 L733.00,442.29 L735.00,442.26 L737.00,442.23 L739.00,442.19 L741.00,442.16 L743.00,442.12 L745.00,442.08 L747.00,442.03 L749.00,441.99 L751.00,441.94 L753.00,441.89 L755.00,441.83 L757.00,441.77 L759.00,441.71 L761.00,441.65 L763.00,441.58 L765.00,441.51 L767.00,441.43 L769.00,441.35 L771.00,441.27 L773.00,441.18 L775.00,441.09 L777.00,441.00 L779.00,440.90 L781.00,440.80 L783.00,440.70 L785.00,440.58 L787.00,440.47 L789.00,440.35 L791.00,440.23 L793.00,440.10 L795.00,439.96 L797.00,439.82 L799.00,439.68 L801.00,439.53 L803.00,439.38 L805.00,439.22 L807.00,439.05 L809.00,438.88 L811.00,438.71 L813.00,438.52 L815.00,438.34 L817.00,438.14 L819.00,437.94 L821.00,437.73 L823.00,437.52 L825.00,437.30 L827.00,437.08 L829.00,436.84 L831.00,436.60 L833.00,436.36 L835.00,436.11 L837.00,435.85 L839.00,435.58 L841.00,435.30 L843.00,435.02 L845.00,434.73 L847.00,434.44 L849.00,434.13 L851.00,433.82 L853.00,433.50 L855.00,433.17 L857.00,432.83 L859.00,432.49 L861.00,432.14 L863.00,431.77 L865.00,431.40 L867.00,431.03 L869.00,430.64 L871.00,430.24 L873.00,429.84 L875.00,429.42 L877.00,429.00 L879.00,428.56 L881.00,428.12 L883.00,427.66 L885.00,427.19 L887.00,426.71 L889.00,426.21 L891.00,425.71 L893.00,425.19 L895.00,424.65 L897.00,424.10 L899.00,423.54 L901.00,422.96 L903.00,422.37 L905.00,421.76 L907.00,421.13 L909.00,420.48 L911.00,419.82 L913.00,419.14 L915.00,418.44 L917.00,417.73 L919.00,416.99 L921.00,416.24 L923.00,415.46 L925.00,414.67 L927.00,413.85 L929.00,413.01 L931.00,412.15 L933.00,411.27 L935.00,410.36 L937.00,409.43 L939.00,408.48 L941.00,407.51 L943.00,406.51 L945.00,405.48 L947.00,404.43 L949.00,403.36 L951.00,402.25 L953.00,401.13 L955.00,399.97 L957.00,398.80 L959.00,397.60 L961.00,396.38 L963.00,395.14 L965.00,393.88 L967.00,392.61 L969.00,391.32 L971.00,390.01 L973.00,388.69 L975.00,387.36 L977.00,386.01 L979.00,384.66 L981.00,383.29 L983.00,381.92 L985.00,380.54 L987.00,379.15 L989.00,377.75 L991.00,376.35 L993.00,374.94 L995.00,373.52 L997.00,372.10 L999.00,370.66 L1001.00,369.22 L1003.00,367.78 L1005.00,366.33 L1007.00,364.87 L1009.00,363.41 L1011.00,361.94 L1013.00,360.46 L1015.00,358.98 L1017.00,357.50 L1019.00,356.01 L1021.00,354.52 L1023.00,353.02 L1025.00,351.52 L1027.00,350.02 L1029.00,348.51 L1031.00,347.00 L1033.00,345.48 L1035.00,343.97 L1037.00,342.45 L1039.00,340.92 L1041.00,339.40 L1043.00,337.86 L1045.00,336.33 L1047.00,334.79 L1049.00,333.25 L1051.00,331.71 L1053.00,330.16 L1055.00,328.61 L1057.00,327.06 L1059.00,325.50 L1061.00,323.94 L1063.00,322.38 L1065.00,320.82 L1067.00,319.25 L1069.00,317.69 L1071.00,316.12 L1073.00,314.55 L1075.00,312.98 L1077.00,311.40 L1079.00,309.83 L1081.00,308.25 L1083.00,306.67 L1085.00,305.09 L1087.00,303.52 L1089.00,301.94 L1091.00,300.35 L1093.00,298.77 L1095.00,297.19 L1097.00,295.61 L1099.00,294.03 L1101.00,292.45 L1103.00,290.88 L1105.00,289.31 L1107.00,287.73 L1109.00,286.17 L1111.00,284.60 L1113.00,283.04 L1115.00,281.49 L1117.00,279.94 L1119.00,278.39 L1121.00,276.86 L1123.00,275.32 L1125.00,273.80 L1127.00,272.28 L1129.00,270.77 L1131.00,269.27 L1133.00,267.78 L1135.00,266.29 L1137.00,264.82 L1139.00,263.35 L1141.00,261.90 L1143.00,260.45 L1145.00,259.02 L1147.00,257.59 L1149.00,256.17 L1151.00,254.76 L1153.00,253.35 L1155.00,251.96 L1157.00,250.57 L1159.00,249.20 L1161.00,247.83 L1163.00,246.46 L1165.00,245.11 L1167.00,243.76 L1169.00,242.42 L1171.00,241.09 L1173.00,239.76 L1175.00,238.44 L1177.00,237.13 L1179.00,235.83 L1181.00,234.53 L1183.00,233.23 L1185.00,231.95 L1187.00,230.66 L1189.00,229.39 L1191.00,228.12 L1193.00,226.86 L1195.00,225.60 L1197.00,224.34 L1199.00,223.09 L1201.00,221.85 L1203.00,220.61 L1205.00,219.38 L1207.00,218.15 L1209.00,216.92 L1211.00,215.70 L1213.00,214.49 L1215.00,213.27 L1217.00,212.06 L1219.00,210.86 L1221.00,209.66 L1223.00,208.46 L1225.00,207.26 L1227.00,206.07 L1229.00,204.88 L1231.00,203.69 L1233.00,202.51 L1235.00,201.33 L1237.00,200.15 L1239.00,198.98 L1241.00,197.81 L1243.00,196.64 L1245.00,195.48 L1247.00,194.31 L1249.00,193.16 L1251.00,192.00 L1253.00,190.85 L1255.00,189.70 L1257.00,188.56 L1259.00,187.41 L1261.00,186.27 L1263.00,185.14 L1265.00,184.01 L1267.00,182.88 L1269.00,181.75 L1271.00,180.63 L1273.00,179.51 L1275.00,178.40 L1277.00,177.28 L1279.00,176.18 L1281.00,175.07 L1283.00,173.97 L1285.00,172.87 L1287.00,171.78 L1289.00,170.68 L1291.00,169.60 L1293.00,168.51 L1295.00,167.43 L1297.00,166.35 L1299.00,165.28 L1301.00,164.21 L1303.00,163.14 L1305.00,162.08 L1307.00,161.02 L1309.00,159.96 L1311.00,158.91 L1313.00,157.86 L1315.00,156.82 L1317.00,155.78 L1319.00,154.74 L1321.00,153.70 L1323.00,152.67 L1325.00,151.65 L1327.00,150.63 L1329.00,149.61 L1331.00,148.59 L1333.00,147.58 L1335.00,146.57 L1337.00,145.57 L1339.00,144.57 L1341.00,143.57 L1343.00,142.58 L1345.00,141.59 L1347.00,140.61 L1349.00,139.62 L1351.00,138.65 L1353.00,137.67 L1355.00,136.71 L1357.00,135.74 L1359.00,134.78 L1361.00,133.82 L1363.00,132.87 L1365.00,131.92 L1367.00,130.97 L1369.00,130.03 L1371.00,129.10 L1373.00,128.16 L1375.00,127.23 L1377.00,126.31 L1379.00,125.39 L1381.00,124.47 L1383.00,123.56 L1385.00,122.65 L1387.00,121.75 L1389.00,120.85 L1391.00,119.95 L1393.00,119.06 L1395.00,118.17 L1397.00,117.29 L1399.00,116.41 L1401.00,115.53 L1403.00,114.66 L1405.00,113.80 L1407.00,112.94 L1409.00,112.08 L1411.00,111.22 L1413.00,110.38 L1415.00,109.53 L1417.00,108.69" fill="none" stroke="#ff0000" stroke-width="2.2" stroke-linejoin="round"/><path d="M165.00,702.47 L167.00,702.40 L169.00,702.33 L171.00,702.26 L173.00,702.20 L175.00,702.14 L177.00,702.08 L179.00,702.03 L181.00,701.98 L183.00,701.93 L185.00,701.88 L187.00,701.84 L189.00,701.80 L191.00,701.75 L193.00,701.71 L195.00,701.68 L197.00,701.64 L199.00,701.60 L201.00,701.56 L203.00,701.53 L205.00,701.49 L207.00,701.45 L209.00,701.42 L211.00,701.38 L213.00,701.34 L215.00,701.30 L217.00,701.26 L219.00,701.22 L221.00,701.18 L223.00,701.13 L225.00,701.08 L227.00,701.03 L229.00,700.98 L231.00,700.93 L233.00,700.87 L235.00,700.81 L237.00,700.75 L239.00,700.68 L241.00,700.61 L243.00,700.54 L245.00,700.46 L247.00,700.38 L249.00,700.29 L251.00,700.20 L253.00,700.10 L255.00,700.00 L257.00,699.89 L259.00,699.78 L261.00,699.66 L263.00,699.54 L265.00,699.41 L267.00,699.27 L269.00,699.13 L271.00,698.98 L273.00,698.83 L275.00,698.66 L277.00,698.49 L279.00,698.31 L281.00,698.13 L283.00,697.93 L285.00,697.73 L287.00,697.52 L289.00,697.30 L291.00,697.08 L293.00,696.84 L295.00,696.59 L297.00,696.34 L299.00,696.07 L301.00,695.80 L303.00,695.51 L305.00,695.22 L307.00,694.91 L309.00,694.60 L311.00,694.27 L313.00,693.93 L315.00,693.59 L317.00,693.23 L319.00,692.85 L321.00,692.47 L323.00,692.07 L325.00,691.67 L327.00,691.25 L329.00,690.81 L331.00,690.37 L333.00,689.91 L335.00,689.44 L337.00,688.95 L339.00,688.45 L341.00,687.93 L343.00,687.40 L345.00,686.86 L347.00,686.30 L349.00,685.72 L351.00,685.13 L353.00,684.52 L355.00,683.89 L357.00,683.25 L359.00,682.58 L361.00,681.90 L363.00,681.21 L365.00,680.49 L367.00,679.75 L369.00,679.00 L371.00,678.22 L373.00,677.43 L375.00,676.61 L377.00,675.77 L379.00,674.92 L381.00,674.04 L383.00,673.13 L385.00,672.21 L387.00,671.26 L389.00,670.30 L391.00,669.30 L393.00,668.29 L395.00,667.25 L397.00,666.18 L399.00,665.09 L401.00,663.98 L403.00,662.84 L405.00,661.67 L407.00,660.48 L409.00,659.26 L411.00,658.02 L413.00,656.74 L415.00,655.45 L417.00,654.12 L419.00,652.78 L421.00,651.41 L423.00,650.02 L425.00,648.60 L427.00,647.17 L429.00,645.71 L431.00,644.24 L433.00,642.75 L435.00,641.23 L437.00,639.71 L439.00,638.16 L441.00,636.61 L443.00,635.03 L445.00,633.45 L447.00,631.85 L449.00,630.24 L451.00,628.62 L453.00,626.99 L455.00,625.34 L457.00,623.69 L459.00,622.03 L461.00,620.36 L463.00,618.69 L465.00,617.00 L467.00,615.31 L469.00,613.61 L471.00,611.90 L473.00,610.19 L475.00,608.47 L477.00,606.74 L479.00,605.01 L481.00,603.27 L483.00,601.53 L485.00,599.78 L487.00,598.03 L489.00,596.28 L491.00,594.52 L493.00,592.75 L495.00,590.99 L497.00,589.22 L499.00,587.45 L501.00,585.67 L503.00,583.90 L505.00,582.12 L507.00,580.34 L509.00,578.56 L511.00,576.78 L513.00,575.00 L515.00,573.22 L517.00,571.44 L519.00,569.66 L521.00,567.89 L523.00,566.11 L525.00,564.34 L527.00,562.56 L529.00,560.79 L531.00,559.02 L533.00,557.26 L535.00,555.50 L537.00,553.74 L539.00,551.98 L541.00,550.23 L543.00,548.49 L545.00,546.75 L547.00,545.01 L549.00,543.28 L551.00,541.56 L553.00,539.84 L555.00,538.13 L557.00,536.43 L559.00,534.73 L561.00,533.04 L563.00,531.36 L565.00,529.68 L567.00,528.01 L569.00,526.35 L571.00,524.70 L573.00,523.05 L575.00,521.41 L577.00,519.78 L579.00,518.15 L581.00,516.53 L583.00,514.91 L585.00,513.30 L587.00,511.70 L589.00,510.11 L591.00,508.52 L593.00,506.93 L595.00,505.35 L597.00,503.78 L599.00,502.21 L601.00,500.65 L603.00,499.10 L605.00,497.55 L607.00,496.00 L609.00,494.46 L611.00,492.93 L613.00,491.40 L615.00,489.87 L617.00,488.35 L619.00,486.84 L621.00,485.33 L623.00,483.82 L625.00,482.32 L627.00,480.83 L629.00,479.33 L631.00,477.85 L633.00,476.36 L635.00,474.88 L637.00,473.41 L639.00,471.94 L641.00,470.47 L643.00,469.01 L645.00,467.55 L647.00,466.09 L649.00,464.64 L651.00,463.19 L653.00,461.74 L655.00,460.30 L657.00,458.86 L659.00,457.42 L661.00,455.99 L663.00,454.56 L665.00,453.13 L667.00,451.70 L669.00,450.28 L671.00,448.86 L673.00,447.44 L675.00,446.03 L677.00,444.61 L679.00,443.20 L681.00,441.79 L683.00,440.39 L685.00,438.98 L687.00,437.58 L689.00,436.18 L691.00,434.78 L693.00,433.38 L695.00,431.98 L697.00,430.59 L699.00,429.19 L701.00,427.80 L703.00,426.41 L705.00,425.02 L707.00,423.63 L709.00,422.24 L711.00,420.86 L713.00,419.47 L715.00,418.09 L717.00,416.70 L719.00,415.32 L721.00,413.94 L723.00,412.56 L725.00,411.18 L727.00,409.81 L729.00,408.43 L731.00,407.06 L733.00,405.68 L735.00,404.31 L737.00,402.94 L739.00,401.57 L741.00,400.20 L743.00,398.83 L745.00,397.46 L747.00,396.10 L749.00,394.73 L751.00,393.37 L753.00,392.01 L755.00,390.65 L757.00,389.29 L759.00,387.93 L761.00,386.57 L763.00,385.21 L765.00,383.86 L767.00,382.50 L769.00,381.15 L771.00,379.79 L773.00,378.44 L775.00,377.09 L777.00,375.74 L779.00,374.40 L781.00,373.05 L783.00,371.70 L785.00,370.36 L787.00,369.01 L789.00,367.67 L791.00,366.33 L793.00,364.99 L795.00,363.65 L797.00,362.31 L799.00,360.97 L801.00,359.64 L803.00,358.30 L805.00,356.97 L807.00,355.63 L809.00,354.30 L811.00,352.97 L813.00,351.64 L815.00,350.31 L817.00,348.98 L819.00,347.65 L821.00,346.33 L823.00,345.00 L825.00,343.68 L827.00,342.35 L829.00,341.03 L831.00,339.71 L833.00,338.39 L835.00,337.07 L837.00,335.75 L839.00,334.44 L841.00,333.12 L843.00,331.80 L845.00,330.49 L847.00,329.18 L849.00,327.86 L851.00,326.55 L853.00,325.24 L855.00,323.93 L857.00,322.62 L859.00,321.32 L861.00,320.01 L863.00,318.71 L865.00,317.40 L867.00,316.10 L869.00,314.79 L871.00,313.49 L873.00,312.19 L875.00,310.89 L877.00,309.59 L879.00,308.29 L881.00,307.00 L883.00,305.70 L885.00,304.40 L887.00,303.11 L889.00,301.82 L891.00,300.52 L893.00,299.23 L895.00,297.94 L897.00,296.65 L899.00,295.36 L901.00,294.07 L903.00,292.79 L905.00,291.50 L907.00,290.22 L909.00,288.93 L911.00,287.65 L913.00,286.36 L915.00,285.08 L917.00,283.80 L919.00,282.52 L921.00,281.24 L923.00,279.96 L925.00,278.68 L927.00,277.41 L929.00,276.13 L931.00,274.86 L933.00,273.58 L935.00,272.31 L937.00,271.04 L939.00,269.76 L941.00,268.49 L943.00,267.22 L945.00,265.95 L947.00,264.69 L949.00,263.42 L951.00,262.15 L953.00,260.89 L955.00,259.62 L957.00,258.36 L959.00,257.09 L961.00,255.83 L963.00,254.57 L965.00,253.31 L967.00,252.05 L969.00,250.79 L971.00,249.53 L973.00,248.27 L975.00,247.01 L977.00,245.76 L979.00,244.50 L981.00,243.24 L983.00,241.99 L985.00,240.74 L987.00,239.48 L989.00,238.23 L991.00,236.98 L993.00,235.73 L995.00,234.48 L997.00,233.23 L999.00,231.98 L1001.00,230.74 L1003.00,229.49 L1005.00,228.24 L1007.00,227.00 L1009.00,225.75 L1011.00,224.51 L1013.00,223.27 L1015.00,222.03 L1017.00,220.78 L1019.00,219.54 L1021.00,218.30 L1023.00,217.06 L1025.00,215.82 L1027.00,214.59 L1029.00,213.35 L1031.00,212.11 L1033.00,210.88 L1035.00,209.64 L1037.00,208.41 L1039.00,207.17 L1041.00,205.94 L1043.00,204.71 L1045.00,203.47 L1047.00,202.24 L1049.00,201.01 L1051.00,199.78 L1053.00,198.55 L1055.00,197.33 L1057.00,196.10 L1059.00,194.87 L1061.00,193.64 L1063.00,192.42 L1065.00,191.19 L1067.00,189.97 L1069.00,188.74 L1071.00,187.52 L1073.00,186.30 L1075.00,185.08 L1077.00,183.85 L1079.00,182.63 L1081.00,181.41 L1083.00,180.19 L1085.00,178.97 L1087.00,177.76 L1089.00,176.54 L1091.00,175.32 L1093.00,174.10 L1095.00,172.89 L1097.00,171.67 L1099.00,170.46 L1101.00,169.24 L1103.00,168.03 L1105.00,166.82 L1107.00,165.60 L1109.00,164.39 L1111.00,163.18 L1113.00,161.97 L1115.00,160.76 L1117.00,159.55 L1119.00,158.34 L1121.00,157.13 L1123.00,155.92 L1125.00,154.72 L1127.00,153.51 L1129.00,152.30 L1131.00,151.10 L1133.00,149.89 L1135.00,148.69 L1137.00,147.48 L1139.00,146.28 L1141.00,145.08 L1143.00,143.87 L1145.00,142.67 L1147.00,141.47 L1149.00,140.27 L1151.00,139.07 L1153.00,137.87 L1155.00,136.67 L1157.00,135.47 L1159.00,134.27 L1161.00,133.07 L1163.00,131.88 L1165.00,130.68 L1167.00,129.48 L1169.00,128.29 L1171.00,127.09 L1173.00,125.89 L1175.00,124.70 L1177.00,123.51 L1179.00,122.31 L1181.00,121.12 L1183.00,119.93 L1185.00,118.73 L1187.00,117.54 L1189.00,116.35 L1191.00,115.16 L1193.00,113.97 L1195.00,112.78 L1197.00,111.59 L1199.00,110.40 L1201.00,109.21 L1203.00,108.02 L1205.00,106.84 L1207.00,105.65 L1209.00,104.46 L1211.00,103.27 L1213.00,102.09 L1215.00,100.90 L1217.00,99.72 L1219.00,98.53 L1221.00,97.35 L1223.00,96.16 L1225.00,94.98 L1227.00,93.80 L1229.00,92.61 L1231.00,91.43 L1233.00,90.25 L1235.00,89.07 L1237.00,87.89 L1239.00,86.70 L1241.00,85.52 L1243.00,84.34 L1245.00,83.16 L1247.00,81.98 L1249.00,80.80 L1251.00,79.63 L1253.00,78.45 L1255.00,77.27 L1257.00,76.09 L1259.00,74.91 L1261.00,73.74 L1263.00,72.56 L1265.00,71.38 L1267.00,70.21 L1269.00,69.03 L1271.00,67.86 L1273.00,66.68 L1275.00,65.51 L1277.00,64.33 L1279.00,63.16 L1281.00,61.98 L1283.00,60.81 L1285.00,59.64 L1287.00,58.46 L1289.00,57.29 L1291.00,56.12 L1293.00,54.95 L1295.00,53.78 L1297.00,52.61 L1299.00,51.43 L1301.00,50.26 L1303.00,49.09 L1305.00,47.92 L1307.00,46.75 L1309.00,45.58 L1311.00,44.41 L1313.00,43.24 L1315.00,42.08 L1317.00,40.91 L1319.00,39.74 L1321.00,38.57 L1323.00,37.40 L1325.00,36.23 L1327.00,35.07 L1329.00,33.90 L1331.00,32.73 L1333.00,31.57 L1335.00,30.40 L1337.00,29.23 L1339.00,28.07 L1341.00,26.90 L1343.00,25.74 L1345.00,24.57 L1347.00,23.41 L1349.00,22.24" fill="none" stroke="#000080" stroke-width="2.2" stroke-linejoin="round"/><path d="M165.00,602.68 L167.00,602.64 L169.00,602.60 L171.00,602.56 L173.00,602.52 L175.00,602.48 L177.00,602.45 L179.00,602.42 L181.00,602.39 L183.00,602.36 L185.00,602.33 L187.00,602.30 L189.00,602.28 L191.00,602.25 L193.00,602.23 L195.00,602.21 L197.00,602.19 L199.00,602.17 L201.00,602.15 L203.00,602.14 L205.00,602.12 L207.00,602.11 L209.00,602.10 L211.00,602.09 L213.00,602.08 L215.00,602.07 L217.00,602.06 L219.00,602.05 L221.00,602.05 L223.00,602.04 L225.00,602.04 L227.00,602.04 L229.00,602.03 L231.00,602.03 L233.00,602.03 L235.00,602.03 L237.00,602.03 L239.00,602.03 L241.00,602.03 L243.00,602.04 L245.00,602.04 L247.00,602.04 L249.00,602.05 L251.00,602.05 L253.00,602.06 L255.00,602.06 L257.00,602.07 L259.00,602.07 L261.00,602.08 L263.00,602.09 L265.00,602.09 L267.00,602.10 L269.00,602.11 L271.00,602.11 L273.00,602.12 L275.00,602.13 L277.00,602.14 L279.00,602.14 L281.00,602.15 L283.00,602.16 L285.00,602.17 L287.00,602.17 L289.00,602.18 L291.00,602.19 L293.00,602.20 L295.00,602.20 L297.00,602.21 L299.00,602.22 L301.00,602.22 L303.00,602.23 L305.00,602.23 L307.00,602.24 L309.00,602.24 L311.00,602.24 L313.00,602.25 L315.00,602.25 L317.00,602.25 L319.00,602.25 L321.00,602.25 L323.00,602.25 L325.00,602.25 L327.00,602.25 L329.00,602.25 L331.00,602.25 L333.00,602.24 L335.00,602.24 L337.00,602.23 L339.00,602.23 L341.00,602.22 L343.00,602.21 L345.00,602.20 L347.00,602.19 L349.00,602.18 L351.00,602.17 L353.00,602.15 L355.00,602.14 L357.00,602.12 L359.00,602.10 L361.00,602.09 L363.00,602.07 L365.00,602.04 L367.00,602.02 L369.00,602.00 L371.00,601.97 L373.00,601.94 L375.00,601.92 L377.00,601.89 L379.00,601.85 L381.00,601.82 L383.00,601.79 L385.00,601.75 L387.00,601.71 L389.00,601.67 L391.00,601.63 L393.00,601.58 L395.00,601.54 L397.00,601.49 L399.00,601.44 L401.00,601.39 L403.00,601.34 L405.00,601.28 L407.00,601.23 L409.00,601.17 L411.00,601.10 L413.00,601.04 L415.00,600.98 L417.00,600.91 L419.00,600.84 L421.00,600.77 L423.00,600.69 L425.00,600.61 L427.00,600.54 L429.00,600.45 L431.00,600.37 L433.00,600.28 L435.00,600.19 L437.00,600.10 L439.00,600.01 L441.00,599.91 L443.00,599.81 L445.00,599.71 L447.00,599.61 L449.00,599.50 L451.00,599.39 L453.00,599.28 L455.00,599.16 L457.00,599.05 L459.00,598.93 L461.00,598.80 L463.00,598.68 L465.00,598.55 L467.00,598.41 L469.00,598.28 L471.00,598.14 L473.00,598.00 L475.00,597.85 L477.00,597.70 L479.00,597.55 L481.00,597.40 L483.00,597.24 L485.00,597.08 L487.00,596.91 L489.00,596.74 L491.00,596.57 L493.00,596.39 L495.00,596.20 L497.00,596.01 L499.00,595.81 L501.00,595.61 L503.00,595.39 L505.00,595.17 L507.00,594.94 L509.00,594.71 L511.00,594.46 L513.00,594.21 L515.00,593.94 L517.00,593.67 L519.00,593.39 L521.00,593.09 L523.00,592.79 L525.00,592.47 L527.00,592.14 L529.00,591.80 L531.00,591.44 L533.00,591.08 L535.00,590.70 L537.00,590.31 L539.00,589.90 L541.00,589.48 L543.00,589.04 L545.00,588.59 L547.00,588.12 L549.00,587.64 L551.00,587.14 L553.00,586.62 L555.00,586.09 L557.00,585.54 L559.00,584.97 L561.00,584.38 L563.00,583.77 L565.00,583.15 L567.00,582.51 L569.00,581.84 L571.00,581.16 L573.00,580.45 L575.00,579.73 L577.00,578.98 L579.00,578.21 L581.00,577.42 L583.00,576.61 L585.00,575.78 L587.00,574.92 L589.00,574.04 L591.00,573.13 L593.00,572.20 L595.00,571.24 L597.00,570.26 L599.00,569.26 L601.00,568.23 L603.00,567.17 L605.00,566.09 L607.00,564.97 L609.00,563.84 L611.00,562.67 L613.00,561.48 L615.00,560.25 L617.00,559.00 L619.00,557.72 L621.00,556.41 L623.00,555.08 L625.00,553.72 L627.00,552.34 L629.00,550.93 L631.00,549.50 L633.00,548.05 L635.00,546.57 L637.00,545.07 L639.00,543.56 L641.00,542.02 L643.00,540.47 L645.00,538.90 L647.00,537.31 L649.00,535.70 L651.00,534.08 L653.00,532.45 L655.00,530.80 L657.00,529.14 L659.00,527.47 L661.00,525.78 L663.00,524.09 L665.00,522.38 L667.00,520.67 L669.00,518.95 L671.00,517.22 L673.00,515.49 L675.00,513.74 L677.00,512.00 L679.00,510.25 L681.00,508.50 L683.00,506.74 L685.00,504.98 L687.00,503.22 L689.00,501.47 L691.00,499.71 L693.00,497.95 L695.00,496.20 L697.00,494.44 L699.00,492.69 L701.00,490.94 L703.00,489.19 L705.00,487.44 L707.00,485.70 L709.00,483.95 L711.00,482.21 L713.00,480.47 L715.00,478.73 L717.00,477.00 L719.00,475.26 L721.00,473.53 L723.00,471.80 L725.00,470.08 L727.00,468.35 L729.00,466.63 L731.00,464.92 L733.00,463.20 L735.00,461.49 L737.00,459.78 L739.00,458.08 L741.00,456.38 L743.00,454.68 L745.00,452.98 L747.00,451.29 L749.00,449.60 L751.00,447.92 L753.00,446.24 L755.00,444.56 L757.00,442.89 L759.00,441.23 L761.00,439.56 L763.00,437.90 L765.00,436.25 L767.00,434.59 L769.00,432.95 L771.00,431.30 L773.00,429.66 L775.00,428.03 L777.00,426.39 L779.00,424.77 L781.00,423.14 L783.00,421.52 L785.00,419.90 L787.00,418.29 L789.00,416.68 L791.00,415.07 L793.00,413.47 L795.00,411.87 L797.00,410.28 L799.00,408.69 L801.00,407.10 L803.00,405.52 L805.00,403.94 L807.00,402.36 L809.00,400.79 L811.00,399.22 L813.00,397.65 L815.00,396.09 L817.00,394.53 L819.00,392.97 L821.00,391.42 L823.00,389.87 L825.00,388.33 L827.00,386.78 L829.00,385.25 L831.00,383.71 L833.00,382.18 L835.00,380.65 L837.00,379.12 L839.00,377.60 L841.00,376.08 L843.00,374.57 L845.00,373.06 L847.00,371.55 L849.00,370.04 L851.00,368.54 L853.00,367.04 L855.00,365.54 L857.00,364.05 L859.00,362.56 L861.00,361.07 L863.00,359.59 L865.00,358.10 L867.00,356.63 L869.00,355.15 L871.00,353.68 L873.00,352.21 L875.00,350.74 L877.00,349.28 L879.00,347.82 L881.00,346.36 L883.00,344.91 L885.00,343.45 L887.00,342.01 L889.00,340.56 L891.00,339.12 L893.00,337.68 L895.00,336.24 L897.00,334.80 L899.00,333.37 L901.00,331.94 L903.00,330.52 L905.00,329.09 L907.00,327.67 L909.00,326.25 L911.00,324.84 L913.00,323.42 L915.00,322.01 L917.00,320.60 L919.00,319.20 L921.00,317.80 L923.00,316.40 L925.00,315.00 L927.00,313.60 L929.00,312.21 L931.00,310.82 L933.00,309.43 L935.00,308.05 L937.00,306.66 L939.00,305.28 L941.00,303.90 L943.00,302.53 L945.00,301.16 L947.00,299.78 L949.00,298.42 L951.00,297.05 L953.00,295.69 L955.00,294.32 L957.00,292.96 L959.00,291.61 L961.00,290.25 L963.00,288.90 L965.00,287.55 L967.00,286.20 L969.00,284.86 L971.00,283.51 L973.00,282.17 L975.00,280.83 L977.00,279.49 L979.00,278.16 L981.00,276.82 L983.00,275.49 L985.00,274.16 L987.00,272.84 L989.00,271.51 L991.00,270.19 L993.00,268.87 L995.00,267.55 L997.00,266.23 L999.00,264.91 L1001.00,263.60 L1003.00,262.29 L1005.00,260.98 L1007.00,259.67 L1009.00,258.36 L1011.00,257.06 L1013.00,255.76 L1015.00,254.46 L1017.00,253.16 L1019.00,251.86 L1021.00,250.56 L1023.00,249.27 L1025.00,247.98 L1027.00,246.69 L1029.00,245.40 L1031.00,244.11 L1033.00,242.83 L1035.00,241.54 L1037.00,240.26 L1039.00,238.98 L1041.00,237.70 L1043.00,236.42 L1045.00,235.15 L1047.00,233.87 L1049.00,232.60 L1051.00,231.33 L1053.00,230.06 L1055.00,228.79 L1057.00,227.52 L1059.00,226.26 L1061.00,224.99 L1063.00,223.73 L1065.00,222.47 L1067.00,221.21 L1069.00,219.95 L1071.00,218.69 L1073.00,217.44 L1075.00,216.18 L1077.00,214.93 L1079.00,213.68 L1081.00,212.43 L1083.00,211.18 L1085.00,209.93 L1087.00,208.68 L1089.00,207.43 L1091.00,206.19 L1093.00,204.94 L1095.00,203.70 L1097.00,202.46 L1099.00,201.22 L1101.00,199.98 L1103.00,198.74 L1105.00,197.50 L1107.00,196.27 L1109.00,195.03 L1111.00,193.80 L1113.00,192.56 L1115.00,191.33 L1117.00,190.10 L1119.00,188.87 L1121.00,187.64 L1123.00,186.41 L1125.00,185.18 L1127.00,183.95 L1129.00,182.73 L1131.00,181.50 L1133.00,180.28 L1135.00,179.05 L1137.00,177.83 L1139.00,176.61 L1141.00,175.38 L1143.00,174.16 L1145.00,172.94 L1147.00,171.72 L1149.00,170.50 L1151.00,169.29 L1153.00,168.07 L1155.00,166.85 L1157.00,165.64 L1159.00,164.42 L1161.00,163.21 L1163.00,161.99 L1165.00,160.78 L1167.00,159.57 L1169.00,158.36 L1171.00,157.15 L1173.00,155.94 L1175.00,154.73 L1177.00,153.52 L1179.00,152.31 L1181.00,151.11 L1183.00,149.90 L1185.00,148.70 L1187.00,147.49 L1189.00,146.29 L1191.00,145.09 L1193.00,143.88 L1195.00,142.68 L1197.00,141.48 L1199.00,140.29 L1201.00,139.09 L1203.00,137.89 L1205.00,136.69 L1207.00,135.50 L1209.00,134.30 L1211.00,133.11 L1213.00,131.92 L1215.00,130.72 L1217.00,129.53 L1219.00,128.34 L1221.00,127.15 L1223.00,125.96 L1225.00,124.78 L1227.00,123.59 L1229.00,122.40 L1231.00,121.22 L1233.00,120.03 L1235.00,118.85 L1237.00,117.67 L1239.00,116.49 L1241.00,115.31 L1243.00,114.13 L1245.00,112.95 L1247.00,111.77 L1249.00,110.59 L1251.00,109.42 L1253.00,108.24 L1255.00,107.07 L1257.00,105.90 L1259.00,104.72 L1261.00,103.55 L1263.00,102.38 L1265.00,101.21 L1267.00,100.04 L1269.00,98.88 L1271.00,97.71 L1273.00,96.55 L1275.00,95.38 L1277.00,94.22 L1279.00,93.06 L1281.00,91.89 L1283.00,90.73 L1285.00,89.57 L1287.00,88.42 L1289.00,87.26 L1291.00,86.10 L1293.00,84.95 L1295.00,83.79 L1297.00,82.64 L1299.00,81.49 L1301.00,80.34 L1303.00,79.19 L1305.00,78.04 L1307.00,76.89 L1309.00,75.74 L1311.00,74.60 L1313.00,73.45 L1315.00,72.31 L1317.00,71.17 L1319.00,70.02 L1321.00,68.88 L1323.00,67.75 L1325.00,66.61 L1327.00,65.47 L1329.00,64.33 L1331.00,63.20 L1333.00,62.06 L1335.00,60.93 L1337.00,59.80 L1339.00,58.67 L1341.00,57.54 L1343.00,56.41 L1345.00,55.28 L1347.00,54.16 L1349.00,53.03 L1351.00,51.91 L1353.00,50.79 L1355.00,49.66 L1357.00,48.54 L1359.00,47.43 L1361.00,46.31 L1363.00,45.19 L1365.00,44.07 L1367.00,42.96 L1369.00,41.85 L1371.00,40.73 L1373.00,39.62 L1375.00,38.51 L1377.00,37.40 L1379.00,36.30 L1381.00,35.19 L1383.00,34.09 L1385.00,32.98 L1387.00,31.88 L1389.00,30.78 L1391.00,29.68 L1393.00,28.58 L1395.00,27.48 L1397.00,26.38 L1399.00,25.29 L1401.00,24.19 L1403.00,23.10 L1405.00,22.01" fill="none" stroke="#000080" stroke-width="2.2" stroke-linejoin="round"/><path d="M165.00,442.48 L167.00,442.48 L169.00,442.49 L171.00,442.50 L173.00,442.51 L175.00,442.51 L177.00,442.52 L179.00,442.53 L181.00,442.54 L183.00,442.54 L185.00,442.55 L187.00,442.56 L189.00,442.56 L191.00,442.57 L193.00,442.57 L195.00,442.58 L197.00,442.59 L199.00,442.59 L201.00,442.60 L203.00,442.60 L205.00,442.61 L207.00,442.61 L209.00,442.62 L211.00,442.62 L213.00,442.63 L215.00,442.63 L217.00,442.64 L219.00,442.64 L221.00,442.65 L223.00,442.65 L225.00,442.66 L227.00,442.66 L229.00,442.66 L231.00,442.67 L233.00,442.67 L235.00,442.68 L237.00,442.68 L239.00,442.68 L241.00,442.69 L243.00,442.69 L245.00,442.69 L247.00,442.69 L249.00,442.70 L251.00,442.70 L253.00,442.70 L255.00,442.71 L257.00,442.71 L259.00,442.71 L261.00,442.71 L263.00,442.71 L265.00,442.72 L267.00,442.72 L269.00,442.72 L271.00,442.72 L273.00,442.72 L275.00,442.73 L277.00,442.73 L279.00,442.73 L281.00,442.73 L283.00,442.73 L285.00,442.73 L287.00,442.73 L289.00,442.73 L291.00,442.74 L293.00,442.74 L295.00,442.74 L297.00,442.74 L299.00,442.74 L301.00,442.74 L303.00,442.74 L305.00,442.74 L307.00,442.74 L309.00,442.74 L311.00,442.74 L313.00,442.74 L315.00,442.74 L317.00,442.74 L319.00,442.74 L321.00,442.74 L323.00,442.74 L325.00,442.74 L327.00,442.74 L329.00,442.74 L331.00,442.74 L333.00,442.73 L335.00,442.73 L337.00,442.73 L339.00,442.73 L341.00,442.73 L343.00,442.73 L345.00,442.73 L347.00,442.73 L349.00,442.73 L351.00,442.72 L353.00,442.72 L355.00,442.72 L357.00,442.72 L359.00,442.72 L361.00,442.72 L363.00,442.72 L365.00,442.71 L367.00,442.71 L369.00,442.71 L371.00,442.71 L373.00,442.71 L375.00,442.70 L377.00,442.70 L379.00,442.70 L381.00,442.70 L383.00,442.70 L385.00,442.69 L387.00,442.69 L389.00,442.69 L391.00,442.69 L393.00,442.68 L395.00,442.68 L397.00,442.68 L399.00,442.68 L401.00,442.67 L403.00,442.67 L405.00,442.67 L407.00,442.67 L409.00,442.66 L411.00,442.66 L413.00,442.66 L415.00,442.66 L417.00,442.65 L419.00,442.65 L421.00,442.65 L423.00,442.64 L425.00,442.64 L427.00,442.64 L429.00,442.64 L431.00,442.63 L433.00,442.63 L435.00,442.63 L437.00,442.62 L439.00,442.62 L441.00,442.62 L443.00,442.61 L445.00,442.61 L447.00,442.61 L449.00,442.60 L451.00,442.60 L453.00,442.60 L455.00,442.59 L457.00,442.59 L459.00,442.59 L461.00,442.59 L463.00,442.58 L465.00,442.58 L467.00,442.58 L469.00,442.57 L471.00,442.57 L473.00,442.57 L475.00,442.56 L477.00,442.56 L479.00,442.56 L481.00,442.55 L483.00,442.55 L485.00,442.55 L487.00,442.54 L489.00,442.54 L491.00,442.54 L493.00,442.53 L495.00,442.53 L497.00,442.53 L499.00,442.52 L501.00,442.52 L503.00,442.52 L505.00,442.51 L507.00,442.51 L509.00,442.51 L511.00,442.50 L513.00,442.50 L515.00,442.50 L517.00,442.49 L519.00,442.49 L521.00,442.49 L523.00,442.48 L525.00,442.48 L527.00,442.48 L529.00,442.47 L531.00,442.47 L533.00,442.47 L535.00,442.47 L537.00,442.46 L539.00,442.46 L541.00,442.46 L543.00,442.45 L545.00,442.45 L547.00,442.45 L549.00,442.45 L551.00,442.44 L553.00,442.44 L555.00,442.44 L557.00,442.43 L559.00,442.43 L561.00,442.43 L563.00,442.43 L565.00,442.42 L567.00,442.42 L569.00,442.42 L571.00,442.42 L573.00,442.41 L575.00,442.41 L577.00,442.41 L579.00,442.41 L581.00,442.40 L583.00,442.40 L585.00,442.40 L587.00,442.40 L589.00,442.40 L591.00,442.39 L593.00,442.39 L595.00,442.39 L597.00,442.39 L599.00,442.39 L601.00,442.38 L603.00,442.38 L605.00,442.38 L607.00,442.38 L609.00,442.38 L611.00,442.38 L613.00,442.38 L615.00,442.37 L617.00,442.37 L619.00,442.37 L621.00,442.37 L623.00,442.37 L625.00,442.37 L627.00,442.37 L629.00,442.37 L631.00,442.37 L633.00,442.36 L635.00,442.36 L637.00,442.36 L639.00,442.36 L641.00,442.36 L643.00,442.36 L645.00,442.36 L647.00,442.36 L649.00,442.36 L651.00,442.36 L653.00,442.36 L655.00,442.36 L657.00,442.36 L659.00,442.36 L661.00,442.36 L663.00,442.36 L665.00,442.36 L667.00,442.36 L669.00,442.36 L671.00,442.36 L673.00,442.36 L675.00,442.36 L677.00,442.37 L679.00,442.37 L681.00,442.37 L683.00,442.37 L685.00,442.37 L687.00,442.37 L689.00,442.37 L691.00,442.37 L693.00,442.38 L695.00,442.38 L697.00,442.38 L699.00,442.38 L701.00,442.38 L703.00,442.38 L705.00,442.38 L707.00,442.38 L709.00,442.38 L711.00,442.38 L713.00,442.38 L715.00,442.38 L717.00,442.38 L719.00,442.37 L721.00,442.37 L723.00,442.36 L725.00,442.36 L727.00,442.35 L729.00,442.34 L731.00,442.33 L733.00,442.32 L735.00,442.31 L737.00,442.30 L739.00,442.28 L741.00,442.27 L743.00,442.25 L745.00,442.23 L747.00,442.21 L749.00,442.19 L751.00,442.16 L753.00,442.13 L755.00,442.11 L757.00,442.08 L759.00,442.04 L761.00,442.01 L763.00,441.97 L765.00,441.93 L767.00,441.89 L769.00,441.85 L771.00,441.80 L773.00,441.75 L775.00,441.70 L777.00,441.65 L779.00,441.59 L781.00,441.53 L783.00,441.47 L785.00,441.41 L787.00,441.34 L789.00,441.27 L791.00,441.19 L793.00,441.12 L795.00,441.04 L797.00,440.95 L799.00,440.87 L801.00,440.78 L803.00,440.68 L805.00,440.59 L807.00,440.49 L809.00,440.38 L811.00,440.27 L813.00,440.16 L815.00,440.05 L817.00,439.93 L819.00,439.80 L821.00,439.67 L823.00,439.54 L825.00,439.41 L827.00,439.27 L829.00,439.12 L831.00,438.97 L833.00,438.82 L835.00,438.66 L837.00,438.50 L839.00,438.33 L841.00,438.16 L843.00,437.98 L845.00,437.80 L847.00,437.62 L849.00,437.43 L851.00,437.23 L853.00,437.03 L855.00,436.82 L857.00,436.61 L859.00,436.40 L861.00,436.17 L863.00,435.95 L865.00,435.71 L867.00,435.47 L869.00,435.23 L871.00,434.98 L873.00,434.73 L875.00,434.46 L877.00,434.19 L879.00,433.92 L881.00,433.63 L883.00,433.34 L885.00,433.03 L887.00,432.72 L889.00,432.39 L891.00,432.06 L893.00,431.71 L895.00,431.35 L897.00,430.97 L899.00,430.58 L901.00,430.18 L903.00,429.76 L905.00,429.33 L907.00,428.87 L909.00,428.41 L911.00,427.92 L913.00,427.42 L915.00,426.89 L917.00,426.35 L919.00,425.79 L921.00,425.21 L923.00,424.60 L925.00,423.98 L927.00,423.33 L929.00,422.66 L931.00,421.96 L933.00,421.24 L935.00,420.50 L937.00,419.73 L939.00,418.93 L941.00,418.11 L943.00,417.26 L945.00,416.38 L947.00,415.47 L949.00,414.53 L951.00,413.57 L953.00,412.57 L955.00,411.54 L957.00,410.49 L959.00,409.41 L961.00,408.30 L963.00,407.16 L965.00,406.00 L967.00,404.81 L969.00,403.60 L971.00,402.36 L973.00,401.10 L975.00,399.82 L977.00,398.51 L979.00,397.18 L981.00,395.83 L983.00,394.46 L985.00,393.08 L987.00,391.67 L989.00,390.24 L991.00,388.80 L993.00,387.33 L995.00,385.86 L997.00,384.36 L999.00,382.85 L1001.00,381.33 L1003.00,379.79 L1005.00,378.23 L1007.00,376.67 L1009.00,375.09 L1011.00,373.50 L1013.00,371.90 L1015.00,370.29 L1017.00,368.67 L1019.00,367.04 L1021.00,365.40 L1023.00,363.75 L1025.00,362.10 L1027.00,360.44 L1029.00,358.78 L1031.00,357.10 L1033.00,355.43 L1035.00,353.75 L1037.00,352.06 L1039.00,350.37 L1041.00,348.68 L1043.00,346.98 L1045.00,345.28 L1047.00,343.58 L1049.00,341.88 L1051.00,340.17 L1053.00,338.46 L1055.00,336.75 L1057.00,335.04 L1059.00,333.32 L1061.00,331.61 L1063.00,329.89 L1065.00,328.18 L1067.00,326.46 L1069.00,324.75 L1071.00,323.03 L1073.00,321.32 L1075.00,319.61 L1077.00,317.90 L1079.00,316.19 L1081.00,314.48 L1083.00,312.78 L1085.00,311.08 L1087.00,309.38 L1089.00,307.68 L1091.00,305.99 L1093.00,304.30 L1095.00,302.62 L1097.00,300.94 L1099.00,299.26 L1101.00,297.59 L1103.00,295.93 L1105.00,294.27 L1107.00,292.61 L1109.00,290.97 L1111.00,289.33 L1113.00,287.69 L1115.00,286.07 L1117.00,284.45 L1119.00,282.83 L1121.00,281.23 L1123.00,279.63 L1125.00,278.05 L1127.00,276.47 L1129.00,274.90 L1131.00,273.34 L1133.00,271.79 L1135.00,270.24 L1137.00,268.71 L1139.00,267.19 L1141.00,265.68 L1143.00,264.18 L1145.00,262.69 L1147.00,261.21 L1149.00,259.73 L1151.00,258.27 L1153.00,256.82 L1155.00,255.37 L1157.00,253.93 L1159.00,252.51 L1161.00,251.09 L1163.00,249.67 L1165.00,248.27 L1167.00,246.88 L1169.00,245.49 L1171.00,244.11 L1173.00,242.73 L1175.00,241.37 L1177.00,240.01 L1179.00,238.66 L1181.00,237.32 L1183.00,235.98 L1185.00,234.65 L1187.00,233.32 L1189.00,232.01 L1191.00,230.69 L1193.00,229.39 L1195.00,228.09 L1197.00,226.79 L1199.00,225.51 L1201.00,224.22 L1203.00,222.95 L1205.00,221.67 L1207.00,220.40 L1209.00,219.14 L1211.00,217.88 L1213.00,216.63 L1215.00,215.38 L1217.00,214.14 L1219.00,212.89 L1221.00,211.66 L1223.00,210.42 L1225.00,209.19 L1227.00,207.97 L1229.00,206.74 L1231.00,205.53 L1233.00,204.31 L1235.00,203.10 L1237.00,201.89 L1239.00,200.68 L1241.00,199.48 L1243.00,198.28 L1245.00,197.09 L1247.00,195.90 L1249.00,194.71 L1251.00,193.53 L1253.00,192.35 L1255.00,191.17 L1257.00,190.00 L1259.00,188.83 L1261.00,187.66 L1263.00,186.50 L1265.00,185.34 L1267.00,184.19 L1269.00,183.03 L1271.00,181.89 L1273.00,180.74 L1275.00,179.60 L1277.00,178.47 L1279.00,177.34 L1281.00,176.21 L1283.00,175.08 L1285.00,173.96 L1287.00,172.84 L1289.00,171.73 L1291.00,170.62 L1293.00,169.51 L1295.00,168.41 L1297.00,167.31 L1299.00,166.22 L1301.00,165.13 L1303.00,164.04 L1305.00,162.96 L1307.00,161.88 L1309.00,160.80 L1311.00,159.73 L1313.00,158.67 L1315.00,157.60 L1317.00,156.54 L1319.00,155.49 L1321.00,154.44 L1323.00,153.39 L1325.00,152.34 L1327.00,151.31 L1329.00,150.27 L1331.00,149.24 L1333.00,148.21 L1335.00,147.19 L1337.00,146.17 L1339.00,145.15 L1341.00,144.14 L1343.00,143.13 L1345.00,142.13 L1347.00,141.13 L1349.00,140.14 L1351.00,139.15 L1353.00,138.16 L1355.00,137.18 L1357.00,136.20 L1359.00,135.22 L1361.00,134.25 L1363.00,133.29 L1365.00,132.33 L1367.00,131.37 L1369.00,130.41 L1371.00,129.47 L1373.00,128.52 L1375.00,127.58 L1377.00,126.64 L1379.00,125.71 L1381.00,124.78 L1383.00,123.86 L1385.00,122.94 L1387.00,122.03 L1389.00,121.11 L1391.00,120.21 L1393.00,119.31 L1395.00,118.41 L1397.00,117.51 L1399.00,116.63 L1401.00,115.74 L1403.00,114.86 L1405.00,113.99 L1407.00,113.11 L1409.00,112.25 L1411.00,111.38 L1413.00,110.53 L1415.00,109.67 L1417.00,108.82" fill="none" stroke="#000080" stroke-width="2.2" stroke-linejoin="round"/></g>
<rect x="167.0" y="28.8" width="1248.60" height="731.10" fill="none" stroke="#000" stroke-width="3.7"/>
<line x1="1294.8" y1="569.4" x2="1394.4" y2="569.4" stroke="#ff0000" stroke-width="2.2"/><line x1="1294.8" y1="627.0" x2="1394.4" y2="627.0" stroke="#000080" stroke-width="2.2"/>
<text transform="matrix(0.42171 0 0 0.42815 58.01 37.27)" font-size="100">10</text><rect x="102.30" y="13.80" width="20.00" height="1.60" fill="#000"/><text transform="matrix(0.33455 0 0 0.30483 125.11 22.40)" font-size="100">3</text><text transform="matrix(0.42171 0 0 0.42815 58.01 203.37)" font-size="100">10</text><rect x="102.30" y="179.90" width="20.00" height="1.60" fill="#000"/><text transform="matrix(0.29677 0 0 0.31179 126.11 188.80)" font-size="100">4</text><text transform="matrix(0.42171 0 0 0.42815 58.01 369.47)" font-size="100">10</text><rect x="102.30" y="346.00" width="20.00" height="1.60" fill="#000"/><text transform="matrix(0.34286 0 0 0.30827 124.73 354.59)" font-size="100">5</text><text transform="matrix(0.42171 0 0 0.42815 58.01 535.57)" font-size="100">10</text><rect x="102.30" y="512.10" width="20.00" height="1.60" fill="#000"/><text transform="matrix(0.32281 0 0 0.30483 125.33 520.70)" font-size="100">6</text><text transform="matrix(0.42171 0 0 0.42815 58.01 701.67)" font-size="100">10</text><rect x="102.30" y="678.20" width="20.00" height="1.60" fill="#000"/><text transform="matrix(0.34074 0 0 0.31298 124.49 687.10)" font-size="100">7</text><text transform="matrix(0.42171 0 0 0.42815 121.81 806.47)" font-size="100">10</text><rect x="166.10" y="783.00" width="20.00" height="1.60" fill="#000"/><text transform="matrix(0.32281 0 0 0.30483 189.45 791.60)" font-size="100">9</text><text transform="matrix(0.42171 0 0 0.42815 357.36 806.47)" font-size="100">10</text><rect x="401.65" y="783.00" width="20.00" height="1.60" fill="#000"/><text transform="matrix(0.32471 0 0 0.30370 424.83 791.60)" font-size="100">8</text><text transform="matrix(0.42171 0 0 0.42815 592.91 806.47)" font-size="100">10</text><rect x="637.20" y="783.00" width="20.00" height="1.60" fill="#000"/><text transform="matrix(0.34074 0 0 0.31298 659.39 791.90)" font-size="100">7</text><text transform="matrix(0.42171 0 0 0.42815 828.46 806.47)" font-size="100">10</text><rect x="872.75" y="783.00" width="20.00" height="1.60" fill="#000"/><text transform="matrix(0.32281 0 0 0.30483 895.78 791.60)" font-size="100">6</text><text transform="matrix(0.42171 0 0 0.42815 1064.01 806.47)" font-size="100">10</text><rect x="1108.30" y="783.00" width="20.00" height="1.60" fill="#000"/><text transform="matrix(0.34286 0 0 0.30827 1130.73 791.59)" font-size="100">5</text><text transform="matrix(0.42171 0 0 0.42815 1299.56 806.47)" font-size="100">10</text><rect x="1343.85" y="783.00" width="20.00" height="1.60" fill="#000"/><text transform="matrix(0.29677 0 0 0.31179 1367.66 791.90)" font-size="100">4</text><text transform="matrix(0.53656 0 0 0.45758 202.64 479.10)" font-size="100">Δ</text><text transform="matrix(0.50909 0 0 0.43206 234.79 479.10)" font-size="100" font-style="italic">T</text><text transform="matrix(0.34543 0 0 0.30038 261.73 485.70)" font-size="100" font-style="italic">i</text><rect x="288.40" y="463.50" width="27.60" height="1.70" fill="#000"/><rect x="288.40" y="471.90" width="27.60" height="1.70" fill="#000"/><text transform="matrix(0.42057 0 0 0.42519 329.42 479.27)" font-size="100">10</text><text transform="matrix(0.43077 0 0 0.43511 384.71 479.10)" font-size="100">K</text><text transform="matrix(0.53656 0 0 0.45758 202.64 639.10)" font-size="100">Δ</text><text transform="matrix(0.50909 0 0 0.43206 234.79 639.10)" font-size="100" font-style="italic">T</text><text transform="matrix(0.34543 0 0 0.30038 261.73 645.70)" font-size="100" font-style="italic">i</text><rect x="288.40" y="623.50" width="27.60" height="1.70" fill="#000"/><rect x="288.40" y="631.90" width="27.60" height="1.70" fill="#000"/><text transform="matrix(0.42210 0 0 0.42519 329.27 639.27)" font-size="100">50</text><text transform="matrix(0.43077 0 0 0.43511 384.71 639.10)" font-size="100">K</text><text transform="matrix(0.53656 0 0 0.45758 202.64 739.90)" font-size="100">Δ</text><text transform="matrix(0.50909 0 0 0.43206 234.79 739.90)" font-size="100" font-style="italic">T</text><text transform="matrix(0.34543 0 0 0.30038 261.73 746.50)" font-size="100" font-style="italic">i</text><rect x="288.40" y="724.30" width="27.60" height="1.70" fill="#000"/><rect x="288.40" y="732.70" width="27.60" height="1.70" fill="#000"/><text transform="matrix(0.41600 0 0 0.42519 329.36 740.07)" font-size="100">100</text><text transform="matrix(0.43810 0 0 0.43511 404.69 739.90)" font-size="100">K</text><text transform="matrix(0.44653 0 0 0.41844 979.64 577.58)" font-size="100">direct</text><text transform="matrix(0.43894 0 0 0.42128 1096.81 577.58)" font-size="100">numerical</text><text transform="matrix(0.44250 0 0 0.40659 1001.73 634.36)" font-size="100">semi-analytical</text><text transform="matrix(0.45284 0 0 0.42230 711.91 863.68)" font-size="100">Time</text><text transform="matrix(0.41176 0 0 0.46722 820.55 864.67)" font-size="100">(</text><text transform="matrix(0.45440 0 0 0.40625 833.98 863.89)" font-size="100">s</text><text transform="matrix(0.40000 0 0 0.46722 851.60 864.67)" font-size="100">)</text><g transform="rotate(-90)"><text transform="matrix(0.44425 0 0 0.41277 -557.93 30.99)" font-size="100">Bubble</text><text transform="matrix(0.45277 0 0 0.41277 -416.71 30.99)" font-size="100">radius</text><text transform="matrix(0.37647 0 0 0.46832 -290.19 31.65)" font-size="100">(</text><text transform="matrix(0.43771 0 0 0.38298 -276.58 30.80)" font-size="100">m</text><text transform="matrix(0.40388 0 0 0.46832 -241.71 31.65)" font-size="100">)</text></g>
</svg></body></html>
